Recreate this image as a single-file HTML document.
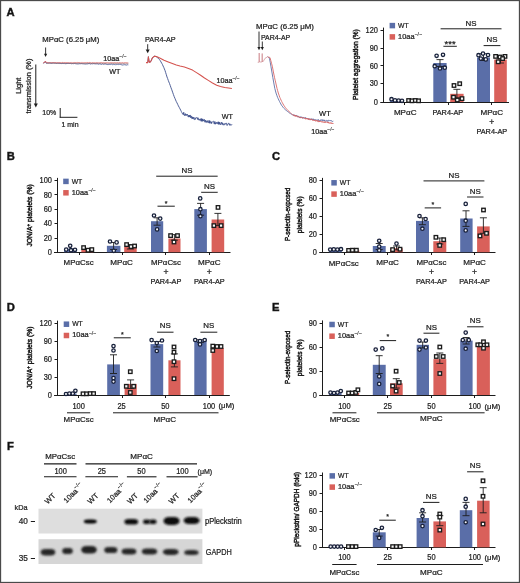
<!DOCTYPE html>
<html><head><meta charset="utf-8"><style>
html,body{margin:0;padding:0;background:#fff;}
svg{display:block;font-family:"Liberation Sans", sans-serif;}
text{stroke:#1e1e1e;stroke-width:0.24px;}
</style></head><body>
<svg width="520" height="583" viewBox="0 0 520 583">
<defs><filter id="soft" x="0" y="0" width="100%" height="100%"><feGaussianBlur stdDeviation="0.32"/></filter></defs>
<rect x="0" y="0" width="520" height="583" fill="#fff"/>
<g filter="url(#soft)">
<text x="6.50" y="15.67" font-size="11.2" text-anchor="start" font-weight="bold" fill="#111" style="stroke-width:0.45px">A</text>
<text x="6.70" y="160.27" font-size="11.2" text-anchor="start" font-weight="bold" fill="#111" style="stroke-width:0.45px">B</text>
<text x="271.90" y="160.27" font-size="11.2" text-anchor="start" font-weight="bold" fill="#111" style="stroke-width:0.45px">C</text>
<text x="6.70" y="310.77" font-size="11.2" text-anchor="start" font-weight="bold" fill="#111" style="stroke-width:0.45px">D</text>
<text x="272.10" y="310.77" font-size="11.2" text-anchor="start" font-weight="bold" fill="#111" style="stroke-width:0.45px">E</text>
<text x="6.90" y="449.67" font-size="11.2" text-anchor="start" font-weight="bold" fill="#111" style="stroke-width:0.45px">F</text>
<text x="42.30" y="42.02" font-size="7.8" text-anchor="start" fill="#1e1e1e" textLength="57.00" lengthAdjust="spacingAndGlyphs">MPαC (6.25 μM)</text>
<line x1="45.60" y1="47.50" x2="45.60" y2="54.30" stroke="#1e1e1e" stroke-width="0.9"/>
<path d="M44.00,53.80 L47.20,53.80 L45.60,57.00 Z" fill="#1e1e1e"/>
<polyline points="43.00,63.27 43.53,63.20 44.07,62.60 44.60,62.55 45.30,61.40 46.00,63.04 46.50,63.02 47.00,62.81 47.50,63.01 48.00,63.02 48.50,63.02 49.00,62.78 49.50,62.96 50.00,62.95 50.50,63.16 51.00,63.34 51.50,63.33 52.00,63.10 52.50,63.05 53.00,62.96 53.50,62.84 54.00,62.85 54.50,63.12 55.00,63.05 55.50,63.10 56.00,63.42 56.50,63.22 57.00,63.25 57.50,63.07 58.00,62.96 58.50,63.15 59.00,63.05 59.50,63.29 60.00,63.60 60.50,63.41 61.00,63.13 61.50,63.56 62.00,63.51 62.50,63.48 63.00,63.59 63.50,63.52 64.00,63.54 64.50,63.29 65.00,63.67 65.50,63.67 66.00,63.20 66.50,63.56 67.00,63.55 67.50,63.40 68.00,63.45 68.50,63.44 69.00,63.70 69.50,63.46 70.00,63.67 70.50,63.39 71.00,63.71 71.50,63.73 72.00,63.48 72.50,63.55 73.00,63.77 73.50,63.66 74.00,63.53 74.50,63.37 75.00,63.44 75.50,63.68 76.00,63.37 76.50,63.82 77.00,63.44 77.50,63.84 78.00,63.49 78.50,63.88 79.00,63.74 79.50,63.63 80.00,63.64 80.50,63.73 81.00,63.70 81.50,63.55 82.00,63.49 82.50,63.68 83.00,63.94 83.50,63.77 84.00,63.45 84.50,63.90 85.00,63.85 85.50,63.97 86.00,63.55 86.50,63.89 87.00,63.49 87.50,63.85 88.00,63.63 88.50,63.61 89.00,64.01 89.50,63.56 90.00,63.81 90.50,64.03 91.01,63.68 91.51,63.67 92.02,64.09 92.52,63.83 93.02,64.02 93.53,63.62 94.03,63.83 94.54,63.73 95.04,64.05 95.54,63.71 96.05,64.25 96.55,63.70 97.06,64.14 97.56,63.73 98.06,63.88 98.57,64.23 99.07,63.85 99.58,63.89 100.08,64.20 100.58,64.04 101.09,63.84 101.59,64.43 102.09,63.94 102.60,63.88 103.10,64.08 103.61,64.26 104.11,64.35 104.61,63.99 105.12,64.14 105.62,63.97 106.13,64.23 106.63,64.44 107.13,64.44 107.64,64.55 108.14,64.47 108.65,64.55 109.15,64.47 109.65,64.35 110.16,64.21 110.66,64.49 111.17,64.30 111.67,64.18 112.17,64.41 112.68,64.68 113.18,64.24 113.69,64.53 114.19,64.43 114.69,64.52 115.20,64.31 115.70,64.81 116.21,64.41 116.71,64.63 117.21,64.53 117.72,64.31 118.22,64.65 118.73,64.41 119.23,64.37 119.73,64.37 120.24,64.47 120.74,64.44 121.24,64.78 121.75,64.72 122.25,65.02 122.76,65.00 123.26,65.05 123.76,64.61 124.27,64.75 124.77,64.65 125.28,64.87 125.78,64.90 126.28,65.02 126.79,64.98 127.29,64.73 127.80,64.84 128.30,64.90" fill="none" stroke="#4a5f9a" stroke-width="0.9" stroke-linejoin="round"/>
<polyline points="43.00,62.67 43.53,62.76 44.07,62.60 44.60,62.65 45.30,61.06 46.00,62.38 46.50,62.36 47.00,62.77 47.51,62.49 48.01,62.47 48.51,62.86 49.01,62.60 49.51,62.78 50.01,62.60 50.52,62.69 51.02,62.44 51.52,62.69 52.02,62.81 52.52,62.64 53.03,62.75 53.53,62.71 54.03,62.41 54.53,62.76 55.03,62.68 55.53,62.54 56.04,62.40 56.54,62.82 57.04,62.63 57.54,62.75 58.04,62.83 58.55,62.75 59.05,62.86 59.55,62.60 60.05,62.80 60.55,62.63 61.05,62.87 61.56,62.85 62.06,62.46 62.56,62.48 63.06,62.52 63.56,62.90 64.07,62.63 64.57,62.73 65.07,62.57 65.57,62.67 66.07,62.62 66.58,62.60 67.08,62.72 67.58,62.72 68.08,62.88 68.58,62.77 69.08,62.90 69.59,62.86 70.09,62.93 70.59,62.78 71.09,62.52 71.59,62.87 72.10,62.93 72.60,62.90 73.10,62.73 73.60,62.81 74.10,62.56 74.60,62.87 75.11,62.74 75.61,62.60 76.11,62.49 76.61,62.89 77.11,62.96 77.62,62.51 78.12,62.87 78.62,62.67 79.12,62.55 79.62,62.62 80.12,62.86 80.63,62.91 81.13,62.50 81.63,62.79 82.13,62.50 82.63,62.84 83.14,62.65 83.64,62.93 84.14,62.98 84.64,62.74 85.14,62.99 85.64,62.65 86.15,62.53 86.65,62.80 87.15,62.52 87.65,62.60 88.15,62.71 88.66,62.81 89.16,62.59 89.66,62.53 90.16,62.94 90.66,62.67 91.16,62.99 91.67,62.96 92.17,62.71 92.67,62.75 93.17,62.78 93.67,62.85 94.18,62.82 94.68,62.81 95.18,62.84 95.68,63.00 96.18,62.79 96.68,62.75 97.19,62.90 97.69,62.66 98.19,62.69 98.69,63.03 99.19,62.80 99.70,62.82 100.20,62.55 100.70,62.76 101.20,62.84 101.70,62.56 102.20,62.86 102.71,62.87 103.21,62.59 103.71,62.87 104.21,62.80 104.71,62.90 105.22,62.74 105.72,62.92 106.22,62.94 106.72,62.58 107.22,62.60 107.73,62.91 108.23,63.06 108.73,62.70 109.23,62.81 109.73,62.88 110.23,62.74 110.74,62.77 111.24,62.74 111.74,62.77 112.24,62.89 112.74,62.74 113.25,62.78 113.75,62.98 114.25,62.61 114.75,62.89 115.25,62.97 115.75,62.76 116.26,62.72 116.76,63.01 117.26,62.73 117.76,62.71 118.26,62.83 118.77,62.96 119.27,62.67 119.77,62.78 120.27,62.79 120.77,63.04 121.27,62.84 121.78,63.05 122.28,62.71 122.78,62.80 123.28,62.96 123.78,63.08 124.29,62.86 124.79,62.75 125.29,62.70 125.79,62.91 126.29,62.74 126.79,63.05 127.30,63.07 127.80,62.74 128.30,62.90" fill="none" stroke="#d9605c" stroke-width="0.9" stroke-linejoin="round"/>
<polyline points="46.00,63.18 46.50,63.40 47.00,63.40 47.51,63.48 48.01,63.15 48.51,63.18 49.01,63.14 49.51,63.18 50.01,63.44 50.52,63.14 51.02,63.34 51.52,63.18 52.02,63.23 52.52,63.30 53.03,63.50 53.53,63.39 54.03,63.10 54.53,63.23 55.03,63.17 55.53,63.53 56.04,63.50 56.54,63.50 57.04,63.52 57.54,63.48 58.04,63.58 58.55,63.51 59.05,63.24 59.55,63.54 60.05,63.36 60.55,63.50 61.05,63.41 61.56,63.34 62.06,63.31 62.56,63.35 63.06,63.29 63.56,63.19 64.07,63.55 64.57,63.54 65.07,63.64 65.57,63.49 66.07,63.42 66.58,63.52 67.08,63.22 67.58,63.49 68.08,63.38 68.58,63.25 69.08,63.26 69.59,63.43 70.09,63.29 70.59,63.40 71.09,63.47 71.59,63.37 72.10,63.24 72.60,63.42 73.10,63.30 73.60,63.30 74.10,63.28 74.60,63.37 75.11,63.23 75.61,63.52 76.11,63.67 76.61,63.39 77.11,63.56 77.62,63.67 78.12,63.23 78.62,63.28 79.12,63.61 79.62,63.63 80.12,63.54 80.63,63.30 81.13,63.43 81.63,63.66 82.13,63.67 82.63,63.63 83.14,63.33 83.64,63.66 84.14,63.42 84.64,63.60 85.14,63.31 85.64,63.73 86.15,63.55 86.65,63.61 87.15,63.36 87.65,63.56 88.15,63.55 88.66,63.55 89.16,63.44 89.66,63.63 90.16,63.44 90.66,63.41 91.16,63.35 91.67,63.61 92.17,63.33 92.67,63.39 93.17,63.31 93.67,63.60 94.18,63.56 94.68,63.56 95.18,63.31 95.68,63.51 96.18,63.47 96.68,63.34 97.19,63.30 97.69,63.80 98.19,63.36 98.69,63.46 99.19,63.44 99.70,63.61 100.20,63.35 100.70,63.55 101.20,63.50 101.70,63.74 102.20,63.33 102.71,63.49 103.21,63.58 103.71,63.82 104.21,63.59 104.71,63.57 105.22,63.67 105.72,63.49 106.22,63.36 106.72,63.60 107.22,63.80 107.73,63.72 108.23,63.48 108.73,63.70 109.23,63.78 109.73,63.49 110.23,63.66 110.74,63.54 111.24,63.49 111.74,63.51 112.24,63.47 112.74,63.55 113.25,63.40 113.75,63.58 114.25,63.43 114.75,63.76 115.25,63.69 115.75,63.39 116.26,63.78 116.76,63.49 117.26,63.64 117.76,63.68 118.26,63.57 118.77,63.55 119.27,63.62 119.77,63.48 120.27,63.84 120.77,63.47 121.27,63.83 121.78,63.53 122.28,63.57 122.78,63.62 123.28,63.44 123.78,63.49 124.29,63.61 124.79,63.65 125.29,63.87 125.79,63.93 126.29,63.46 126.79,63.71 127.30,63.51 127.80,63.85 128.30,63.70" fill="none" stroke="#6a4a55" stroke-width="0.6" stroke-linejoin="round" opacity="0.7"/>
<text x="103.30" y="61.23" font-size="7.2" text-anchor="start" fill="#1e1e1e">10aa<tspan font-size="0.7em" dy="-0.55em" stroke-width="0.1">−/−</tspan></text>
<text x="109.20" y="73.96" font-size="7.6" text-anchor="start" fill="#1e1e1e" textLength="11.20" lengthAdjust="spacingAndGlyphs">WT</text>
<text x="19.00" y="87.93" font-size="7.2" text-anchor="middle" fill="#1e1e1e" transform="rotate(-90 19.00 85.70)" textLength="16.20" lengthAdjust="spacingAndGlyphs">Light</text>
<text x="28.80" y="88.33" font-size="7.2" text-anchor="middle" fill="#1e1e1e" transform="rotate(-90 28.80 86.10)" textLength="55.00" lengthAdjust="spacingAndGlyphs">transmission (%)</text>
<line x1="35.80" y1="64.50" x2="35.80" y2="104.00" stroke="#1e1e1e" stroke-width="1.0"/>
<path d="M33.80,103.50 L37.80,103.50 L35.80,107.50 Z" fill="#1e1e1e"/>
<text x="42.30" y="114.99" font-size="7.4" text-anchor="start" fill="#1e1e1e" textLength="14.00" lengthAdjust="spacingAndGlyphs">10%</text>
<line x1="60.20" y1="108.00" x2="60.20" y2="117.60" stroke="#1e1e1e" stroke-width="1.0"/>
<line x1="59.70" y1="117.30" x2="77.40" y2="117.30" stroke="#1e1e1e" stroke-width="1.0"/>
<text x="61.50" y="127.23" font-size="7.2" text-anchor="start" fill="#1e1e1e" textLength="17.00" lengthAdjust="spacingAndGlyphs">1 min</text>
<text x="145.00" y="41.52" font-size="7.8" text-anchor="start" fill="#1e1e1e" textLength="30.60" lengthAdjust="spacingAndGlyphs">PAR4-AP</text>
<line x1="147.70" y1="44.20" x2="147.70" y2="49.90" stroke="#1e1e1e" stroke-width="0.9"/>
<path d="M145.70,49.40 L149.70,49.40 L147.70,53.20 Z" fill="#1e1e1e"/>
<polyline points="146.00,62.54 146.60,62.50 147.20,62.58 147.80,62.52 148.40,56.70 149.00,60.98 149.80,62.50 151.00,61.07 151.75,59.36 152.50,57.53 153.20,57.14 153.90,56.61 154.60,56.12 155.23,56.31 155.87,56.53 156.50,56.90 157.17,57.41 157.83,57.94 158.50,58.47 159.35,59.43 160.20,60.55 160.97,61.93 161.73,63.26 162.50,64.59 163.12,66.07 163.75,67.35 164.38,68.95 165.00,70.44 165.67,72.60 166.33,74.72 167.00,76.99 167.62,78.53 168.25,80.35 168.88,81.96 169.50,83.51 170.27,85.55 171.03,87.80 171.80,89.82 172.60,92.16 173.40,94.42 174.20,96.60 174.90,98.25 175.60,99.96 176.30,101.58 177.00,102.92 177.70,104.35 178.40,105.88 179.20,107.29 180.00,108.89 180.70,110.18 181.40,111.66 181.80,112.48 182.20,113.11 182.60,114.01 183.00,113.90 183.36,114.65 183.71,112.29 184.07,113.79 184.43,115.40 184.79,114.77 185.14,115.73 185.50,113.68 185.83,114.84 186.17,114.33 186.50,115.33 186.83,115.55 187.17,114.05 187.50,114.78 187.83,115.09 188.17,117.07 188.50,116.77 188.83,115.14 189.17,117.11 189.50,115.32 189.83,116.83 190.17,115.53 190.50,115.29 190.83,117.93 191.17,116.14 191.50,116.27 191.83,118.62 192.17,118.42 192.50,116.86 192.83,118.93 193.17,117.82 193.50,118.35 193.83,117.10 194.17,119.36 194.50,118.75 194.84,119.64 195.18,119.52 195.52,117.88 195.86,118.15 196.19,117.68 196.53,117.71 196.87,117.56 197.21,118.34 197.55,119.30 197.89,117.65 198.23,119.69 198.57,118.80 198.91,118.80 199.24,120.37 199.58,119.48 199.92,119.09 200.26,119.66 200.60,120.39 200.93,118.60 201.27,121.34 201.60,118.67 201.93,120.86 202.27,121.22 202.60,118.90 202.93,121.22 203.27,120.08 203.60,120.78 203.93,119.21 204.27,119.40 204.60,119.87 204.93,122.20 205.27,120.09 205.60,121.79 205.93,122.38 206.27,122.50 206.60,120.85 206.93,120.96 207.27,121.54 207.60,122.35 207.93,120.50 208.27,122.44 208.60,122.66 208.94,122.89 209.28,120.56 209.61,123.24 209.95,120.81 210.29,121.59 210.62,122.42 210.96,123.36 211.30,121.74 211.64,123.48 211.97,122.43 212.31,121.81 212.65,121.87 212.99,121.51 213.32,121.28 213.66,121.53 214.00,123.15 214.34,124.09 214.67,121.72 215.01,121.44 215.35,124.21 215.69,122.95 216.02,122.63 216.36,122.19 216.70,123.27 217.03,123.98 217.36,122.94 217.69,122.88 218.02,121.85 218.35,124.38 218.68,121.85 219.01,123.22 219.34,124.26 219.67,122.24 220.00,124.02 220.33,124.69 220.67,123.80 221.00,124.29 221.33,122.35 221.66,123.33 221.99,122.54 222.32,124.59 222.65,123.03 222.98,123.53 223.31,125.14 223.64,124.75 223.97,125.15 224.30,123.67 224.63,123.79 224.96,124.52 225.29,123.82 225.62,123.30 225.95,123.65 226.28,122.93 226.61,123.63 226.94,125.43 227.27,125.37 227.60,124.43 227.93,124.08 228.27,123.64 228.60,122.95 228.93,123.50 229.26,125.01 229.59,125.28 229.92,123.84 230.25,125.10 230.58,125.09 230.91,124.89 231.24,124.82 231.57,125.13 231.90,124.40" fill="none" stroke="#3d4f8c" stroke-width="0.9" stroke-linejoin="round"/>
<polyline points="146.00,62.60 147.80,62.60 148.40,56.80 149.00,61.00 149.80,62.40 151.00,61.00 152.50,57.60 154.60,56.20 156.50,56.50 160.20,58.30 164.00,60.30 168.30,62.00 173.00,63.80 176.30,65.00 180.00,66.00 184.40,67.00 188.50,68.40 192.50,70.10 196.50,72.60 200.60,75.30 204.50,78.00 208.70,80.60 212.50,83.00 216.70,85.20 220.50,86.60 224.80,87.50 228.50,88.00 231.90,88.40" fill="none" stroke="#d4524e" stroke-width="1.05" stroke-linejoin="round"/>
<text x="216.40" y="82.53" font-size="7.2" text-anchor="start" fill="#1e1e1e">10aa<tspan font-size="0.7em" dy="-0.55em" stroke-width="0.1">−/−</tspan></text>
<text x="221.80" y="119.36" font-size="7.6" text-anchor="start" fill="#1e1e1e" textLength="11.20" lengthAdjust="spacingAndGlyphs">WT</text>
<text x="256.10" y="28.62" font-size="7.8" text-anchor="start" fill="#1e1e1e" textLength="57.80" lengthAdjust="spacingAndGlyphs">MPαC (6.25 μM)</text>
<text x="260.90" y="40.19" font-size="7.4" text-anchor="start" fill="#1e1e1e" textLength="29.30" lengthAdjust="spacingAndGlyphs">PAR4-AP</text>
<line x1="259.00" y1="31.50" x2="259.00" y2="47.50" stroke="#1e1e1e" stroke-width="0.9"/>
<path d="M257.40,47.00 L260.60,47.00 L259.00,50.20 Z" fill="#1e1e1e"/>
<line x1="262.30" y1="41.50" x2="262.30" y2="47.50" stroke="#1e1e1e" stroke-width="0.9"/>
<path d="M260.70,47.00 L263.90,47.00 L262.30,50.20 Z" fill="#1e1e1e"/>
<polyline points="267.60,56.74 268.23,57.34 268.87,57.90 269.50,58.47 270.20,62.24 270.90,66.12 271.90,72.00 272.80,77.33 273.80,82.98 274.80,88.43 276.00,92.97 276.80,95.24 277.60,97.43 278.23,98.76 278.87,100.14 279.50,101.52 280.17,102.70 280.83,103.97 281.50,105.24 282.27,106.17 283.03,107.24 283.80,108.22 284.48,108.87 285.15,109.43 285.82,110.03 286.50,110.74 287.10,111.20 287.70,111.61 288.30,112.03 288.90,112.50 289.50,113.02 290.12,113.34 290.73,113.79 291.35,114.11 291.97,114.43 292.58,114.85 293.20,114.92 293.56,114.75 293.92,115.65 294.27,114.83 294.63,115.68 294.99,115.51 295.35,115.12 295.71,115.95 296.06,115.30 296.42,116.04 296.78,115.56 297.14,115.70 297.49,116.34 297.85,117.09 298.21,116.07 298.57,116.34 298.93,117.09 299.28,117.71 299.64,117.22 300.00,117.03 300.36,118.03 300.72,116.61 301.08,117.98 301.43,117.14 301.79,116.98 302.15,117.00 302.51,117.38 302.87,118.26 303.23,117.31 303.59,118.02 303.94,118.18 304.30,117.82 304.66,118.17 305.02,117.47 305.38,117.53 305.74,117.83 306.10,118.66 306.46,118.33 306.81,118.21 307.17,118.72 307.53,118.57 307.89,118.40 308.25,119.26 308.61,119.17 308.97,118.51 309.32,119.11 309.68,119.10 310.04,119.73 310.40,119.57 310.76,118.90 311.11,120.05 311.47,118.71 311.82,119.23 312.18,119.82 312.53,118.89 312.89,119.47 313.24,118.79 313.60,119.84 313.96,120.03 314.31,119.76 314.67,120.29 315.02,119.43 315.38,120.08 315.73,119.96 316.09,119.98 316.44,119.82 316.80,120.48 317.16,120.69 317.51,119.97 317.87,120.32 318.22,119.39 318.58,120.46 318.93,120.41 319.29,121.01 319.64,120.77 320.00,119.96 320.35,120.14 320.70,120.61 321.05,119.60 321.40,120.32 321.75,119.87 322.10,119.81 322.45,119.74 322.80,120.90 323.15,119.90 323.50,120.11 323.85,120.36 324.20,121.15 324.55,119.90 324.90,120.51 325.25,120.69 325.60,121.25 325.95,121.17 326.30,121.26 326.65,120.35 327.00,120.59 327.35,120.52 327.70,121.38 328.05,121.52 328.40,120.25 328.75,120.31 329.10,120.42 329.45,120.44 329.80,120.87 330.15,121.05 330.50,120.55 330.85,120.16 331.20,120.84 331.55,120.79 331.90,121.12 332.25,121.76 332.60,121.36 332.95,121.10 333.30,121.10" fill="none" stroke="#5565a0" stroke-width="0.85" stroke-linejoin="round"/>
<polyline points="267.60,56.67 268.40,57.06 269.20,57.26 270.00,57.62 270.77,60.38 271.53,63.24 272.30,66.16 273.40,71.97 274.50,77.32 275.15,80.15 275.80,82.99 277.00,88.40 277.65,90.66 278.30,93.04 279.05,95.15 279.80,97.37 280.43,98.71 281.07,100.11 281.70,101.49 282.37,102.78 283.03,103.95 283.70,105.15 284.40,106.17 285.10,107.26 285.80,108.15 286.60,109.05 287.40,109.85 288.20,110.72 288.80,111.26 289.40,111.87 290.00,112.42 290.60,113.02 291.25,113.60 291.90,114.11 292.55,114.61 293.20,115.14 293.56,115.13 293.92,114.89 294.27,116.10 294.63,114.92 294.99,115.78 295.35,116.49 295.71,115.38 296.06,116.21 296.42,116.42 296.78,115.67 297.14,116.29 297.49,116.89 297.85,116.63 298.21,117.16 298.57,116.42 298.93,116.66 299.28,116.58 299.64,117.29 300.00,118.04 300.36,117.61 300.72,117.96 301.08,117.45 301.43,118.07 301.79,117.18 302.15,117.54 302.51,118.19 302.87,118.35 303.23,117.97 303.59,117.54 303.94,117.88 304.30,117.88 304.66,118.06 305.02,118.93 305.38,118.09 305.74,119.19 306.10,119.26 306.46,118.10 306.81,118.66 307.17,118.90 307.53,118.28 307.89,118.96 308.25,119.75 308.61,118.64 308.97,119.44 309.32,118.80 309.68,119.57 310.04,120.12 310.40,119.15 310.76,118.93 311.11,119.12 311.47,119.87 311.82,119.16 312.18,119.33 312.53,120.02 312.89,120.72 313.24,120.04 313.60,120.08 313.96,120.51 314.31,119.76 314.67,120.56 315.02,120.02 315.38,120.75 315.73,121.34 316.09,120.06 316.44,120.88 316.80,121.03 317.16,120.41 317.51,120.66 317.87,121.82 318.22,121.90 318.58,120.65 318.93,121.60 319.29,122.04 319.64,121.03 320.00,121.67 320.35,120.86 320.70,121.40 321.05,121.91 321.40,121.84 321.75,122.16 322.10,121.18 322.45,121.62 322.80,122.45 323.15,122.08 323.50,121.93 323.85,121.90 324.20,122.83 324.55,122.26 324.90,121.48 325.25,122.70 325.60,122.04 325.95,122.25 326.30,121.97 326.65,122.37 327.00,122.24 327.35,121.93 327.70,122.79 328.05,122.05 328.40,123.13 328.75,122.04 329.10,123.22 329.45,123.31 329.80,122.90 330.15,123.26 330.50,122.62 330.85,123.41 331.20,122.99 331.55,122.75 331.90,123.90 332.25,123.10 332.60,123.11 332.95,123.89 333.30,123.40" fill="none" stroke="#d86868" stroke-width="0.9" stroke-linejoin="round"/>
<polyline points="257.70,62.30 258.90,62.30 259.20,53.00 259.50,62.00 261.90,62.00 262.20,53.50 262.50,62.00 263.50,61.00 265.00,58.30 267.30,57.00" fill="none" stroke="#c87880" stroke-width="0.6" stroke-linejoin="round"/>
<text x="319.10" y="115.56" font-size="7.6" text-anchor="start" fill="#1e1e1e" textLength="11.60" lengthAdjust="spacingAndGlyphs">WT</text>
<text x="311.20" y="133.63" font-size="7.2" text-anchor="start" fill="#1e1e1e">10aa<tspan font-size="0.7em" dy="-0.55em" stroke-width="0.1">−/−</tspan></text>
<text x="355.60" y="67.02" font-size="7.8" text-anchor="middle" fill="#1e1e1e" transform="rotate(-90 355.60 64.60)" textLength="70.60" lengthAdjust="spacingAndGlyphs" style="stroke-width:0.5px">Platelet aggregation (%)</text>
<line x1="383.50" y1="27.60" x2="383.50" y2="102.50" stroke="#1e1e1e" stroke-width="1"/>
<line x1="380.50" y1="30.50" x2="383.50" y2="30.50" stroke="#1e1e1e" stroke-width="1"/>
<text x="378.00" y="32.87" font-size="8.6" text-anchor="end" fill="#1e1e1e" textLength="12.45" lengthAdjust="spacingAndGlyphs">120</text>
<line x1="380.50" y1="48.50" x2="383.50" y2="48.50" stroke="#1e1e1e" stroke-width="1"/>
<text x="378.00" y="50.67" font-size="8.6" text-anchor="end" fill="#1e1e1e" textLength="8.30" lengthAdjust="spacingAndGlyphs">90</text>
<line x1="380.50" y1="65.50" x2="383.50" y2="65.50" stroke="#1e1e1e" stroke-width="1"/>
<text x="378.00" y="68.57" font-size="8.6" text-anchor="end" fill="#1e1e1e" textLength="8.30" lengthAdjust="spacingAndGlyphs">60</text>
<line x1="380.50" y1="83.50" x2="383.50" y2="83.50" stroke="#1e1e1e" stroke-width="1"/>
<text x="378.00" y="86.47" font-size="8.6" text-anchor="end" fill="#1e1e1e" textLength="8.30" lengthAdjust="spacingAndGlyphs">30</text>
<line x1="380.50" y1="102.50" x2="383.50" y2="102.50" stroke="#1e1e1e" stroke-width="1"/>
<text x="378.00" y="104.67" font-size="8.6" text-anchor="end" fill="#1e1e1e" textLength="4.15" lengthAdjust="spacingAndGlyphs">0</text>
<line x1="380.50" y1="102.50" x2="509.00" y2="102.50" stroke="#1e1e1e" stroke-width="1"/>
<line x1="404.50" y1="102.50" x2="404.50" y2="105.00" stroke="#1e1e1e" stroke-width="1"/>
<line x1="448.50" y1="102.50" x2="448.50" y2="105.00" stroke="#1e1e1e" stroke-width="1"/>
<line x1="491.50" y1="102.50" x2="491.50" y2="105.00" stroke="#1e1e1e" stroke-width="1"/>
<rect x="389.60" y="22.85" width="5.50" height="5.50" fill="#5a6ea8"/>
<rect x="389.60" y="34.15" width="5.50" height="5.50" fill="#d9605a"/>
<text x="398.10" y="27.89" font-size="7.4" text-anchor="start" fill="#1e1e1e" textLength="10.60" lengthAdjust="spacingAndGlyphs">WT</text>
<text x="398.10" y="38.79" font-size="7.4" text-anchor="start" fill="#1e1e1e">10aa<tspan font-size="0.7em" dy="-0.55em" stroke-width="0.1">−/−</tspan></text>
<rect x="389.80" y="100.60" width="12.80" height="1.40" fill="#5a6ea8"/>
<rect x="407.00" y="101.00" width="12.80" height="1.00" fill="#d9605a"/>
<circle cx="391.50" cy="99.20" r="1.7" fill="#f4f4f8" stroke="#18203a" stroke-width="1.3"/>
<circle cx="395.00" cy="100.40" r="1.7" fill="#f4f4f8" stroke="#18203a" stroke-width="1.3"/>
<circle cx="398.60" cy="100.60" r="1.7" fill="#f4f4f8" stroke="#18203a" stroke-width="1.3"/>
<circle cx="402.00" cy="100.80" r="1.7" fill="#f4f4f8" stroke="#18203a" stroke-width="1.3"/>
<rect x="406.85" y="98.75" width="3.5" height="3.5" fill="#f6f6f6" stroke="#1a1a1a" stroke-width="1.3"/>
<rect x="410.25" y="99.05" width="3.5" height="3.5" fill="#f6f6f6" stroke="#1a1a1a" stroke-width="1.3"/>
<rect x="413.55" y="98.75" width="3.5" height="3.5" fill="#f6f6f6" stroke="#1a1a1a" stroke-width="1.3"/>
<rect x="416.85" y="99.05" width="3.5" height="3.5" fill="#f6f6f6" stroke="#1a1a1a" stroke-width="1.3"/>
<rect x="433.30" y="63.00" width="13.30" height="39.00" fill="#5a6ea8"/>
<rect x="450.20" y="93.80" width="13.40" height="8.20" fill="#d9605a"/>
<line x1="440.00" y1="59.60" x2="440.00" y2="66.50" stroke="#1e1e1e" stroke-width="0.9"/>
<line x1="436.50" y1="59.60" x2="443.50" y2="59.60" stroke="#1e1e1e" stroke-width="0.9"/>
<line x1="436.50" y1="66.50" x2="443.50" y2="66.50" stroke="#1e1e1e" stroke-width="0.9"/>
<circle cx="436.60" cy="55.80" r="1.7" fill="#f4f4f8" stroke="#18203a" stroke-width="1.3"/>
<circle cx="443.00" cy="54.80" r="1.7" fill="#f4f4f8" stroke="#18203a" stroke-width="1.3"/>
<circle cx="434.70" cy="66.20" r="1.7" fill="#f4f4f8" stroke="#18203a" stroke-width="1.3"/>
<circle cx="440.00" cy="68.50" r="1.7" fill="#f4f4f8" stroke="#18203a" stroke-width="1.3"/>
<circle cx="444.80" cy="67.70" r="1.7" fill="#f4f4f8" stroke="#18203a" stroke-width="1.3"/>
<line x1="456.90" y1="89.30" x2="456.90" y2="98.00" stroke="#1e1e1e" stroke-width="0.9"/>
<line x1="453.40" y1="89.30" x2="460.40" y2="89.30" stroke="#1e1e1e" stroke-width="0.9"/>
<line x1="453.40" y1="98.00" x2="460.40" y2="98.00" stroke="#1e1e1e" stroke-width="0.9"/>
<rect x="452.25" y="83.75" width="3.5" height="3.5" fill="#f6f6f6" stroke="#1a1a1a" stroke-width="1.3"/>
<rect x="457.95" y="81.95" width="3.5" height="3.5" fill="#f6f6f6" stroke="#1a1a1a" stroke-width="1.3"/>
<rect x="451.75" y="95.45" width="3.5" height="3.5" fill="#f6f6f6" stroke="#1a1a1a" stroke-width="1.3"/>
<rect x="455.55" y="98.25" width="3.5" height="3.5" fill="#f6f6f6" stroke="#1a1a1a" stroke-width="1.3"/>
<rect x="460.25" y="96.85" width="3.5" height="3.5" fill="#f6f6f6" stroke="#1a1a1a" stroke-width="1.3"/>
<rect x="477.00" y="57.40" width="13.00" height="44.60" fill="#5a6ea8"/>
<rect x="494.20" y="59.60" width="12.60" height="42.40" fill="#d9605a"/>
<line x1="483.50" y1="53.80" x2="483.50" y2="60.50" stroke="#1e1e1e" stroke-width="0.9"/>
<line x1="480.00" y1="53.80" x2="487.00" y2="53.80" stroke="#1e1e1e" stroke-width="0.9"/>
<line x1="480.00" y1="60.50" x2="487.00" y2="60.50" stroke="#1e1e1e" stroke-width="0.9"/>
<circle cx="478.50" cy="55.20" r="1.7" fill="#f4f4f8" stroke="#18203a" stroke-width="1.3"/>
<circle cx="483.00" cy="53.60" r="1.7" fill="#f4f4f8" stroke="#18203a" stroke-width="1.3"/>
<circle cx="488.00" cy="55.00" r="1.7" fill="#f4f4f8" stroke="#18203a" stroke-width="1.3"/>
<circle cx="480.80" cy="58.60" r="1.7" fill="#f4f4f8" stroke="#18203a" stroke-width="1.3"/>
<circle cx="485.80" cy="59.40" r="1.7" fill="#f4f4f8" stroke="#18203a" stroke-width="1.3"/>
<line x1="500.50" y1="56.20" x2="500.50" y2="63.00" stroke="#1e1e1e" stroke-width="0.9"/>
<line x1="497.00" y1="56.20" x2="504.00" y2="56.20" stroke="#1e1e1e" stroke-width="0.9"/>
<line x1="497.00" y1="63.00" x2="504.00" y2="63.00" stroke="#1e1e1e" stroke-width="0.9"/>
<rect x="493.85" y="54.65" width="3.5" height="3.5" fill="#f6f6f6" stroke="#1a1a1a" stroke-width="1.3"/>
<rect x="498.25" y="55.25" width="3.5" height="3.5" fill="#f6f6f6" stroke="#1a1a1a" stroke-width="1.3"/>
<rect x="503.25" y="54.65" width="3.5" height="3.5" fill="#f6f6f6" stroke="#1a1a1a" stroke-width="1.3"/>
<rect x="496.45" y="60.05" width="3.5" height="3.5" fill="#f6f6f6" stroke="#1a1a1a" stroke-width="1.3"/>
<rect x="500.85" y="56.85" width="3.5" height="3.5" fill="#f6f6f6" stroke="#1a1a1a" stroke-width="1.3"/>
<line x1="440.60" y1="28.80" x2="501.50" y2="28.80" stroke="#1e1e1e" stroke-width="1"/>
<text x="471.05" y="25.88" font-size="8.0" text-anchor="middle" fill="#1e1e1e" textLength="11.00" lengthAdjust="spacingAndGlyphs">NS</text>
<line x1="443.40" y1="46.30" x2="456.80" y2="46.30" stroke="#1e1e1e" stroke-width="1"/>
<text x="450.10" y="46.51" font-size="9.4" text-anchor="middle" fill="#1e1e1e">***</text>
<line x1="483.60" y1="45.60" x2="500.40" y2="45.60" stroke="#1e1e1e" stroke-width="1"/>
<text x="492.00" y="41.88" font-size="8.0" text-anchor="middle" fill="#1e1e1e" textLength="11.00" lengthAdjust="spacingAndGlyphs">NS</text>
<text x="405.20" y="114.88" font-size="8.0" text-anchor="middle" fill="#1e1e1e" textLength="22.60" lengthAdjust="spacingAndGlyphs">MPαC</text>
<text x="447.80" y="114.88" font-size="8.0" text-anchor="middle" fill="#1e1e1e" textLength="30.80" lengthAdjust="spacingAndGlyphs">PAR4-AP</text>
<text x="491.80" y="114.88" font-size="8.0" text-anchor="middle" fill="#1e1e1e" textLength="22.60" lengthAdjust="spacingAndGlyphs">MPαC</text>
<text x="491.80" y="124.67" font-size="8.6" text-anchor="middle" fill="#1e1e1e">+</text>
<text x="491.80" y="134.08" font-size="8.0" text-anchor="middle" fill="#1e1e1e" textLength="30.80" lengthAdjust="spacingAndGlyphs">PAR4-AP</text>
<text x="29.90" y="217.82" font-size="7.8" text-anchor="middle" fill="#1e1e1e" style="stroke-width:0.5px" transform="rotate(-90 29.90 215.40)" textLength="62.4" lengthAdjust="spacingAndGlyphs">JON/A<tspan font-size="0.65em" dy="-0.55em">+</tspan><tspan dy="0.35em"> platelets (%)</tspan></text>
<line x1="57.50" y1="177.90" x2="57.50" y2="252.70" stroke="#1e1e1e" stroke-width="1"/>
<line x1="54.50" y1="180.50" x2="57.50" y2="180.50" stroke="#1e1e1e" stroke-width="1"/>
<text x="52.00" y="183.17" font-size="8.6" text-anchor="end" fill="#1e1e1e" textLength="12.45" lengthAdjust="spacingAndGlyphs">100</text>
<line x1="54.50" y1="194.50" x2="57.50" y2="194.50" stroke="#1e1e1e" stroke-width="1"/>
<text x="52.00" y="197.57" font-size="8.6" text-anchor="end" fill="#1e1e1e" textLength="8.30" lengthAdjust="spacingAndGlyphs">80</text>
<line x1="54.50" y1="209.50" x2="57.50" y2="209.50" stroke="#1e1e1e" stroke-width="1"/>
<text x="52.00" y="211.97" font-size="8.6" text-anchor="end" fill="#1e1e1e" textLength="8.30" lengthAdjust="spacingAndGlyphs">60</text>
<line x1="54.50" y1="223.50" x2="57.50" y2="223.50" stroke="#1e1e1e" stroke-width="1"/>
<text x="52.00" y="226.27" font-size="8.6" text-anchor="end" fill="#1e1e1e" textLength="8.30" lengthAdjust="spacingAndGlyphs">40</text>
<line x1="54.50" y1="238.50" x2="57.50" y2="238.50" stroke="#1e1e1e" stroke-width="1"/>
<text x="52.00" y="240.67" font-size="8.6" text-anchor="end" fill="#1e1e1e" textLength="8.30" lengthAdjust="spacingAndGlyphs">20</text>
<line x1="54.50" y1="252.50" x2="57.50" y2="252.50" stroke="#1e1e1e" stroke-width="1"/>
<text x="52.00" y="254.87" font-size="8.6" text-anchor="end" fill="#1e1e1e" textLength="4.15" lengthAdjust="spacingAndGlyphs">0</text>
<line x1="54.00" y1="252.50" x2="230.50" y2="252.50" stroke="#1e1e1e" stroke-width="1"/>
<line x1="79.50" y1="252.50" x2="79.50" y2="255.00" stroke="#1e1e1e" stroke-width="1"/>
<line x1="122.50" y1="252.50" x2="122.50" y2="255.00" stroke="#1e1e1e" stroke-width="1"/>
<line x1="165.50" y1="252.50" x2="165.50" y2="255.00" stroke="#1e1e1e" stroke-width="1"/>
<line x1="209.50" y1="252.50" x2="209.50" y2="255.00" stroke="#1e1e1e" stroke-width="1"/>
<rect x="63.20" y="178.65" width="5.50" height="5.50" fill="#5a6ea8"/>
<rect x="63.20" y="190.05" width="5.50" height="5.50" fill="#d9605a"/>
<text x="71.70" y="183.69" font-size="7.4" text-anchor="start" fill="#1e1e1e" textLength="10.60" lengthAdjust="spacingAndGlyphs">WT</text>
<text x="71.70" y="194.69" font-size="7.4" text-anchor="start" fill="#1e1e1e">10aa<tspan font-size="0.7em" dy="-0.55em" stroke-width="0.1">−/−</tspan></text>
<rect x="64.00" y="248.80" width="12.60" height="3.40" fill="#5a6ea8"/>
<rect x="81.30" y="249.80" width="12.10" height="2.40" fill="#d9605a"/>
<circle cx="70.20" cy="245.80" r="1.7" fill="#f4f4f8" stroke="#18203a" stroke-width="1.3"/>
<circle cx="66.20" cy="249.60" r="1.7" fill="#f4f4f8" stroke="#18203a" stroke-width="1.3"/>
<circle cx="71.00" cy="250.20" r="1.7" fill="#f4f4f8" stroke="#18203a" stroke-width="1.3"/>
<circle cx="75.00" cy="249.80" r="1.7" fill="#f4f4f8" stroke="#18203a" stroke-width="1.3"/>
<rect x="81.85" y="245.85" width="3.5" height="3.5" fill="#f6f6f6" stroke="#1a1a1a" stroke-width="1.3"/>
<rect x="86.25" y="248.45" width="3.5" height="3.5" fill="#f6f6f6" stroke="#1a1a1a" stroke-width="1.3"/>
<rect x="90.05" y="247.85" width="3.5" height="3.5" fill="#f6f6f6" stroke="#1a1a1a" stroke-width="1.3"/>
<rect x="106.90" y="245.80" width="13.50" height="6.40" fill="#5a6ea8"/>
<rect x="124.20" y="247.00" width="12.50" height="5.20" fill="#d9605a"/>
<line x1="113.60" y1="242.50" x2="113.60" y2="249.50" stroke="#1e1e1e" stroke-width="0.9"/>
<line x1="110.10" y1="242.50" x2="117.10" y2="242.50" stroke="#1e1e1e" stroke-width="0.9"/>
<line x1="110.10" y1="249.50" x2="117.10" y2="249.50" stroke="#1e1e1e" stroke-width="0.9"/>
<circle cx="110.00" cy="241.50" r="1.7" fill="#f4f4f8" stroke="#18203a" stroke-width="1.3"/>
<circle cx="116.60" cy="242.40" r="1.7" fill="#f4f4f8" stroke="#18203a" stroke-width="1.3"/>
<circle cx="113.80" cy="250.80" r="1.7" fill="#f4f4f8" stroke="#18203a" stroke-width="1.3"/>
<line x1="130.40" y1="244.80" x2="130.40" y2="249.00" stroke="#1e1e1e" stroke-width="0.9"/>
<line x1="126.90" y1="244.80" x2="133.90" y2="244.80" stroke="#1e1e1e" stroke-width="0.9"/>
<line x1="126.90" y1="249.00" x2="133.90" y2="249.00" stroke="#1e1e1e" stroke-width="0.9"/>
<rect x="124.85" y="242.85" width="3.5" height="3.5" fill="#f6f6f6" stroke="#1a1a1a" stroke-width="1.3"/>
<rect x="129.25" y="244.85" width="3.5" height="3.5" fill="#f6f6f6" stroke="#1a1a1a" stroke-width="1.3"/>
<rect x="132.85" y="244.25" width="3.5" height="3.5" fill="#f6f6f6" stroke="#1a1a1a" stroke-width="1.3"/>
<rect x="151.00" y="221.20" width="12.20" height="31.00" fill="#5a6ea8"/>
<rect x="168.40" y="238.50" width="12.10" height="13.70" fill="#d9605a"/>
<line x1="157.10" y1="217.80" x2="157.10" y2="225.20" stroke="#1e1e1e" stroke-width="0.9"/>
<line x1="153.60" y1="217.80" x2="160.60" y2="217.80" stroke="#1e1e1e" stroke-width="0.9"/>
<line x1="153.60" y1="225.20" x2="160.60" y2="225.20" stroke="#1e1e1e" stroke-width="0.9"/>
<circle cx="154.00" cy="215.50" r="1.7" fill="#f4f4f8" stroke="#18203a" stroke-width="1.3"/>
<circle cx="160.20" cy="218.60" r="1.7" fill="#f4f4f8" stroke="#18203a" stroke-width="1.3"/>
<circle cx="157.10" cy="229.40" r="1.7" fill="#f4f4f8" stroke="#18203a" stroke-width="1.3"/>
<line x1="174.40" y1="234.60" x2="174.40" y2="240.20" stroke="#1e1e1e" stroke-width="0.9"/>
<line x1="170.90" y1="234.60" x2="177.90" y2="234.60" stroke="#1e1e1e" stroke-width="0.9"/>
<line x1="170.90" y1="240.20" x2="177.90" y2="240.20" stroke="#1e1e1e" stroke-width="0.9"/>
<rect x="168.85" y="233.85" width="3.5" height="3.5" fill="#f6f6f6" stroke="#1a1a1a" stroke-width="1.3"/>
<rect x="175.75" y="233.85" width="3.5" height="3.5" fill="#f6f6f6" stroke="#1a1a1a" stroke-width="1.3"/>
<rect x="172.25" y="240.25" width="3.5" height="3.5" fill="#f6f6f6" stroke="#1a1a1a" stroke-width="1.3"/>
<rect x="194.30" y="209.10" width="12.60" height="43.10" fill="#5a6ea8"/>
<rect x="211.60" y="219.50" width="12.60" height="32.70" fill="#d9605a"/>
<line x1="200.60" y1="203.40" x2="200.60" y2="215.20" stroke="#1e1e1e" stroke-width="0.9"/>
<line x1="197.10" y1="203.40" x2="204.10" y2="203.40" stroke="#1e1e1e" stroke-width="0.9"/>
<line x1="197.10" y1="215.20" x2="204.10" y2="215.20" stroke="#1e1e1e" stroke-width="0.9"/>
<circle cx="200.20" cy="198.40" r="1.7" fill="#f4f4f8" stroke="#18203a" stroke-width="1.3"/>
<circle cx="200.40" cy="209.20" r="1.7" fill="#f4f4f8" stroke="#18203a" stroke-width="1.3"/>
<circle cx="200.40" cy="216.20" r="1.7" fill="#f4f4f8" stroke="#18203a" stroke-width="1.3"/>
<line x1="217.90" y1="213.40" x2="217.90" y2="225.60" stroke="#1e1e1e" stroke-width="0.9"/>
<line x1="214.40" y1="213.40" x2="221.40" y2="213.40" stroke="#1e1e1e" stroke-width="0.9"/>
<line x1="214.40" y1="225.60" x2="221.40" y2="225.60" stroke="#1e1e1e" stroke-width="0.9"/>
<rect x="216.25" y="205.65" width="3.5" height="3.5" fill="#f6f6f6" stroke="#1a1a1a" stroke-width="1.3"/>
<rect x="212.15" y="223.85" width="3.5" height="3.5" fill="#f6f6f6" stroke="#1a1a1a" stroke-width="1.3"/>
<rect x="219.35" y="223.85" width="3.5" height="3.5" fill="#f6f6f6" stroke="#1a1a1a" stroke-width="1.3"/>
<line x1="156.20" y1="176.20" x2="217.70" y2="176.20" stroke="#1e1e1e" stroke-width="1"/>
<text x="186.95" y="172.88" font-size="8.0" text-anchor="middle" fill="#1e1e1e" textLength="11.00" lengthAdjust="spacingAndGlyphs">NS</text>
<line x1="157.50" y1="206.20" x2="174.80" y2="206.20" stroke="#1e1e1e" stroke-width="1"/>
<text x="166.15" y="205.87" font-size="7.0" text-anchor="middle" fill="#1e1e1e">*</text>
<line x1="201.20" y1="192.30" x2="217.70" y2="192.30" stroke="#1e1e1e" stroke-width="1"/>
<text x="209.45" y="189.08" font-size="8.0" text-anchor="middle" fill="#1e1e1e" textLength="11.00" lengthAdjust="spacingAndGlyphs">NS</text>
<text x="78.60" y="265.28" font-size="8.0" text-anchor="middle" fill="#1e1e1e" textLength="30.00" lengthAdjust="spacingAndGlyphs">MPαCsc</text>
<text x="121.60" y="265.28" font-size="8.0" text-anchor="middle" fill="#1e1e1e" textLength="22.60" lengthAdjust="spacingAndGlyphs">MPαC</text>
<text x="166.00" y="265.28" font-size="8.0" text-anchor="middle" fill="#1e1e1e" textLength="30.00" lengthAdjust="spacingAndGlyphs">MPαCsc</text>
<text x="166.00" y="275.47" font-size="8.6" text-anchor="middle" fill="#1e1e1e">+</text>
<text x="166.00" y="284.28" font-size="8.0" text-anchor="middle" fill="#1e1e1e" textLength="30.80" lengthAdjust="spacingAndGlyphs">PAR4-AP</text>
<text x="209.30" y="265.28" font-size="8.0" text-anchor="middle" fill="#1e1e1e" textLength="22.60" lengthAdjust="spacingAndGlyphs">MPαC</text>
<text x="209.30" y="275.47" font-size="8.6" text-anchor="middle" fill="#1e1e1e">+</text>
<text x="209.30" y="284.28" font-size="8.0" text-anchor="middle" fill="#1e1e1e" textLength="30.80" lengthAdjust="spacingAndGlyphs">PAR4-AP</text>
<text x="287.60" y="216.82" font-size="7.8" text-anchor="middle" fill="#1e1e1e" transform="rotate(-90 287.60 214.40)" textLength="53.40" lengthAdjust="spacingAndGlyphs" style="stroke-width:0.5px">P-selectin-exposed</text>
<text x="299.40" y="217.22" font-size="7.8" text-anchor="middle" fill="#1e1e1e" transform="rotate(-90 299.40 214.80)" textLength="36.80" lengthAdjust="spacingAndGlyphs" style="stroke-width:0.5px">platelets (%)</text>
<line x1="322.50" y1="177.90" x2="322.50" y2="252.70" stroke="#1e1e1e" stroke-width="1"/>
<line x1="319.50" y1="180.50" x2="322.50" y2="180.50" stroke="#1e1e1e" stroke-width="1"/>
<text x="317.00" y="183.17" font-size="8.6" text-anchor="end" fill="#1e1e1e" textLength="8.30" lengthAdjust="spacingAndGlyphs">80</text>
<line x1="319.50" y1="198.50" x2="322.50" y2="198.50" stroke="#1e1e1e" stroke-width="1"/>
<text x="317.00" y="201.17" font-size="8.6" text-anchor="end" fill="#1e1e1e" textLength="8.30" lengthAdjust="spacingAndGlyphs">60</text>
<line x1="319.50" y1="216.50" x2="322.50" y2="216.50" stroke="#1e1e1e" stroke-width="1"/>
<text x="317.00" y="219.07" font-size="8.6" text-anchor="end" fill="#1e1e1e" textLength="8.30" lengthAdjust="spacingAndGlyphs">40</text>
<line x1="319.50" y1="234.50" x2="322.50" y2="234.50" stroke="#1e1e1e" stroke-width="1"/>
<text x="317.00" y="237.07" font-size="8.6" text-anchor="end" fill="#1e1e1e" textLength="8.30" lengthAdjust="spacingAndGlyphs">20</text>
<line x1="319.50" y1="252.50" x2="322.50" y2="252.50" stroke="#1e1e1e" stroke-width="1"/>
<text x="317.00" y="254.87" font-size="8.6" text-anchor="end" fill="#1e1e1e" textLength="4.15" lengthAdjust="spacingAndGlyphs">0</text>
<line x1="319.30" y1="252.50" x2="495.50" y2="252.50" stroke="#1e1e1e" stroke-width="1"/>
<line x1="344.50" y1="252.50" x2="344.50" y2="255.00" stroke="#1e1e1e" stroke-width="1"/>
<line x1="387.50" y1="252.50" x2="387.50" y2="255.00" stroke="#1e1e1e" stroke-width="1"/>
<line x1="431.50" y1="252.50" x2="431.50" y2="255.00" stroke="#1e1e1e" stroke-width="1"/>
<line x1="474.50" y1="252.50" x2="474.50" y2="255.00" stroke="#1e1e1e" stroke-width="1"/>
<rect x="331.30" y="180.05" width="5.50" height="5.50" fill="#5a6ea8"/>
<rect x="331.30" y="191.35" width="5.50" height="5.50" fill="#d9605a"/>
<text x="339.80" y="185.09" font-size="7.4" text-anchor="start" fill="#1e1e1e" textLength="10.60" lengthAdjust="spacingAndGlyphs">WT</text>
<text x="339.80" y="195.99" font-size="7.4" text-anchor="start" fill="#1e1e1e">10aa<tspan font-size="0.7em" dy="-0.55em" stroke-width="0.1">−/−</tspan></text>
<rect x="329.00" y="250.00" width="12.80" height="2.20" fill="#5a6ea8"/>
<rect x="346.60" y="250.60" width="12.80" height="1.60" fill="#d9605a"/>
<circle cx="330.20" cy="249.60" r="1.7" fill="#f4f4f8" stroke="#18203a" stroke-width="1.3"/>
<circle cx="333.80" cy="249.40" r="1.7" fill="#f4f4f8" stroke="#18203a" stroke-width="1.3"/>
<circle cx="337.40" cy="249.60" r="1.7" fill="#f4f4f8" stroke="#18203a" stroke-width="1.3"/>
<circle cx="341.00" cy="249.20" r="1.7" fill="#f4f4f8" stroke="#18203a" stroke-width="1.3"/>
<rect x="346.85" y="248.65" width="3.5" height="3.5" fill="#f6f6f6" stroke="#1a1a1a" stroke-width="1.3"/>
<rect x="350.65" y="248.45" width="3.5" height="3.5" fill="#f6f6f6" stroke="#1a1a1a" stroke-width="1.3"/>
<rect x="354.65" y="248.45" width="3.5" height="3.5" fill="#f6f6f6" stroke="#1a1a1a" stroke-width="1.3"/>
<rect x="372.80" y="246.00" width="12.90" height="6.20" fill="#5a6ea8"/>
<rect x="390.10" y="248.20" width="12.60" height="4.00" fill="#d9605a"/>
<line x1="379.20" y1="243.50" x2="379.20" y2="249.50" stroke="#1e1e1e" stroke-width="0.9"/>
<line x1="375.70" y1="243.50" x2="382.70" y2="243.50" stroke="#1e1e1e" stroke-width="0.9"/>
<line x1="375.70" y1="249.50" x2="382.70" y2="249.50" stroke="#1e1e1e" stroke-width="0.9"/>
<circle cx="379.20" cy="240.80" r="1.7" fill="#f4f4f8" stroke="#18203a" stroke-width="1.3"/>
<circle cx="379.20" cy="246.60" r="1.7" fill="#f4f4f8" stroke="#18203a" stroke-width="1.3"/>
<circle cx="379.20" cy="250.40" r="1.7" fill="#f4f4f8" stroke="#18203a" stroke-width="1.3"/>
<line x1="396.50" y1="246.00" x2="396.50" y2="249.80" stroke="#1e1e1e" stroke-width="0.9"/>
<line x1="393.00" y1="246.00" x2="400.00" y2="246.00" stroke="#1e1e1e" stroke-width="0.9"/>
<line x1="393.00" y1="249.80" x2="400.00" y2="249.80" stroke="#1e1e1e" stroke-width="0.9"/>
<circle cx="396.50" cy="243.60" r="1.7" fill="#f4f4f8" stroke="#18203a" stroke-width="1.3"/>
<rect x="390.85" y="247.85" width="3.5" height="3.5" fill="#f6f6f6" stroke="#1a1a1a" stroke-width="1.3"/>
<rect x="398.25" y="247.45" width="3.5" height="3.5" fill="#f6f6f6" stroke="#1a1a1a" stroke-width="1.3"/>
<rect x="416.00" y="220.90" width="13.00" height="31.30" fill="#5a6ea8"/>
<rect x="433.30" y="241.20" width="13.00" height="11.00" fill="#d9605a"/>
<line x1="422.40" y1="217.80" x2="422.40" y2="224.70" stroke="#1e1e1e" stroke-width="0.9"/>
<line x1="418.90" y1="217.80" x2="425.90" y2="217.80" stroke="#1e1e1e" stroke-width="0.9"/>
<line x1="418.90" y1="224.70" x2="425.90" y2="224.70" stroke="#1e1e1e" stroke-width="0.9"/>
<circle cx="419.50" cy="216.00" r="1.7" fill="#f4f4f8" stroke="#18203a" stroke-width="1.3"/>
<circle cx="425.60" cy="219.00" r="1.7" fill="#f4f4f8" stroke="#18203a" stroke-width="1.3"/>
<circle cx="422.40" cy="228.70" r="1.7" fill="#f4f4f8" stroke="#18203a" stroke-width="1.3"/>
<line x1="439.80" y1="238.00" x2="439.80" y2="244.00" stroke="#1e1e1e" stroke-width="0.9"/>
<line x1="436.30" y1="238.00" x2="443.30" y2="238.00" stroke="#1e1e1e" stroke-width="0.9"/>
<line x1="436.30" y1="244.00" x2="443.30" y2="244.00" stroke="#1e1e1e" stroke-width="0.9"/>
<rect x="434.15" y="235.55" width="3.5" height="3.5" fill="#f6f6f6" stroke="#1a1a1a" stroke-width="1.3"/>
<rect x="441.95" y="237.95" width="3.5" height="3.5" fill="#f6f6f6" stroke="#1a1a1a" stroke-width="1.3"/>
<rect x="437.95" y="243.65" width="3.5" height="3.5" fill="#f6f6f6" stroke="#1a1a1a" stroke-width="1.3"/>
<rect x="460.20" y="218.50" width="12.40" height="33.70" fill="#5a6ea8"/>
<rect x="477.10" y="226.40" width="12.60" height="25.80" fill="#d9605a"/>
<line x1="466.00" y1="210.80" x2="466.00" y2="226.40" stroke="#1e1e1e" stroke-width="0.9"/>
<line x1="462.50" y1="210.80" x2="469.50" y2="210.80" stroke="#1e1e1e" stroke-width="0.9"/>
<line x1="462.50" y1="226.40" x2="469.50" y2="226.40" stroke="#1e1e1e" stroke-width="0.9"/>
<circle cx="465.70" cy="203.90" r="1.7" fill="#f4f4f8" stroke="#18203a" stroke-width="1.3"/>
<circle cx="465.70" cy="220.70" r="1.7" fill="#f4f4f8" stroke="#18203a" stroke-width="1.3"/>
<circle cx="465.70" cy="230.40" r="1.7" fill="#f4f4f8" stroke="#18203a" stroke-width="1.3"/>
<line x1="483.40" y1="217.80" x2="483.40" y2="233.30" stroke="#1e1e1e" stroke-width="0.9"/>
<line x1="479.90" y1="217.80" x2="486.90" y2="217.80" stroke="#1e1e1e" stroke-width="0.9"/>
<line x1="479.90" y1="233.30" x2="486.90" y2="233.30" stroke="#1e1e1e" stroke-width="0.9"/>
<rect x="481.75" y="208.25" width="3.5" height="3.5" fill="#f6f6f6" stroke="#1a1a1a" stroke-width="1.3"/>
<rect x="478.25" y="234.15" width="3.5" height="3.5" fill="#f6f6f6" stroke="#1a1a1a" stroke-width="1.3"/>
<rect x="484.75" y="231.55" width="3.5" height="3.5" fill="#f6f6f6" stroke="#1a1a1a" stroke-width="1.3"/>
<line x1="423.50" y1="180.90" x2="484.40" y2="180.90" stroke="#1e1e1e" stroke-width="1"/>
<text x="453.95" y="178.08" font-size="8.0" text-anchor="middle" fill="#1e1e1e" textLength="11.00" lengthAdjust="spacingAndGlyphs">NS</text>
<line x1="424.70" y1="207.90" x2="441.10" y2="207.90" stroke="#1e1e1e" stroke-width="1"/>
<text x="432.90" y="206.77" font-size="7.0" text-anchor="middle" fill="#1e1e1e">*</text>
<line x1="467.10" y1="197.00" x2="483.50" y2="197.00" stroke="#1e1e1e" stroke-width="1"/>
<text x="475.30" y="193.68" font-size="8.0" text-anchor="middle" fill="#1e1e1e" textLength="11.00" lengthAdjust="spacingAndGlyphs">NS</text>
<text x="343.80" y="265.68" font-size="8.0" text-anchor="middle" fill="#1e1e1e" textLength="30.00" lengthAdjust="spacingAndGlyphs">MPαCsc</text>
<text x="387.60" y="265.08" font-size="8.0" text-anchor="middle" fill="#1e1e1e" textLength="22.60" lengthAdjust="spacingAndGlyphs">MPαC</text>
<text x="431.40" y="265.08" font-size="8.0" text-anchor="middle" fill="#1e1e1e" textLength="30.00" lengthAdjust="spacingAndGlyphs">MPαCsc</text>
<text x="431.40" y="275.27" font-size="8.6" text-anchor="middle" fill="#1e1e1e">+</text>
<text x="431.40" y="284.28" font-size="8.0" text-anchor="middle" fill="#1e1e1e" textLength="30.80" lengthAdjust="spacingAndGlyphs">PAR4-AP</text>
<text x="474.60" y="265.08" font-size="8.0" text-anchor="middle" fill="#1e1e1e" textLength="22.60" lengthAdjust="spacingAndGlyphs">MPαC</text>
<text x="474.60" y="275.27" font-size="8.6" text-anchor="middle" fill="#1e1e1e">+</text>
<text x="474.60" y="284.28" font-size="8.0" text-anchor="middle" fill="#1e1e1e" textLength="30.80" lengthAdjust="spacingAndGlyphs">PAR4-AP</text>
<text x="29.90" y="360.02" font-size="7.8" text-anchor="middle" fill="#1e1e1e" style="stroke-width:0.5px" transform="rotate(-90 29.90 357.60)" textLength="62.4" lengthAdjust="spacingAndGlyphs">JON/A<tspan font-size="0.65em" dy="-0.55em">+</tspan><tspan dy="0.35em"> platelets (%)</tspan></text>
<line x1="57.50" y1="320.65" x2="57.50" y2="395.50" stroke="#1e1e1e" stroke-width="1"/>
<line x1="54.50" y1="323.50" x2="57.50" y2="323.50" stroke="#1e1e1e" stroke-width="1"/>
<text x="52.00" y="325.92" font-size="8.6" text-anchor="end" fill="#1e1e1e" textLength="12.45" lengthAdjust="spacingAndGlyphs">120</text>
<line x1="54.50" y1="341.50" x2="57.50" y2="341.50" stroke="#1e1e1e" stroke-width="1"/>
<text x="52.00" y="343.87" font-size="8.6" text-anchor="end" fill="#1e1e1e" textLength="8.30" lengthAdjust="spacingAndGlyphs">90</text>
<line x1="54.50" y1="359.50" x2="57.50" y2="359.50" stroke="#1e1e1e" stroke-width="1"/>
<text x="52.00" y="361.87" font-size="8.6" text-anchor="end" fill="#1e1e1e" textLength="8.30" lengthAdjust="spacingAndGlyphs">60</text>
<line x1="54.50" y1="377.50" x2="57.50" y2="377.50" stroke="#1e1e1e" stroke-width="1"/>
<text x="52.00" y="379.77" font-size="8.6" text-anchor="end" fill="#1e1e1e" textLength="8.30" lengthAdjust="spacingAndGlyphs">30</text>
<line x1="54.50" y1="395.50" x2="57.50" y2="395.50" stroke="#1e1e1e" stroke-width="1"/>
<text x="52.00" y="397.67" font-size="8.6" text-anchor="end" fill="#1e1e1e" textLength="4.15" lengthAdjust="spacingAndGlyphs">0</text>
<line x1="54.10" y1="395.50" x2="229.80" y2="395.50" stroke="#1e1e1e" stroke-width="1"/>
<line x1="78.50" y1="395.50" x2="78.50" y2="398.00" stroke="#1e1e1e" stroke-width="1"/>
<line x1="122.50" y1="395.50" x2="122.50" y2="398.00" stroke="#1e1e1e" stroke-width="1"/>
<line x1="165.50" y1="395.50" x2="165.50" y2="398.00" stroke="#1e1e1e" stroke-width="1"/>
<line x1="209.50" y1="395.50" x2="209.50" y2="398.00" stroke="#1e1e1e" stroke-width="1"/>
<rect x="63.70" y="321.45" width="5.50" height="5.50" fill="#5a6ea8"/>
<rect x="63.70" y="332.75" width="5.50" height="5.50" fill="#d9605a"/>
<text x="72.20" y="326.49" font-size="7.4" text-anchor="start" fill="#1e1e1e" textLength="10.60" lengthAdjust="spacingAndGlyphs">WT</text>
<text x="72.20" y="337.39" font-size="7.4" text-anchor="start" fill="#1e1e1e">10aa<tspan font-size="0.7em" dy="-0.55em" stroke-width="0.1">−/−</tspan></text>
<rect x="64.00" y="393.60" width="12.60" height="1.40" fill="#5a6ea8"/>
<rect x="81.00" y="393.80" width="12.60" height="1.20" fill="#d9605a"/>
<circle cx="66.00" cy="394.00" r="1.7" fill="#f4f4f8" stroke="#18203a" stroke-width="1.3"/>
<circle cx="69.40" cy="393.60" r="1.7" fill="#f4f4f8" stroke="#18203a" stroke-width="1.3"/>
<circle cx="72.80" cy="393.60" r="1.7" fill="#f4f4f8" stroke="#18203a" stroke-width="1.3"/>
<circle cx="75.40" cy="390.80" r="1.7" fill="#f4f4f8" stroke="#18203a" stroke-width="1.3"/>
<rect x="81.25" y="392.05" width="3.5" height="3.5" fill="#f6f6f6" stroke="#1a1a1a" stroke-width="1.3"/>
<rect x="84.85" y="392.05" width="3.5" height="3.5" fill="#f6f6f6" stroke="#1a1a1a" stroke-width="1.3"/>
<rect x="88.45" y="391.85" width="3.5" height="3.5" fill="#f6f6f6" stroke="#1a1a1a" stroke-width="1.3"/>
<rect x="91.85" y="391.85" width="3.5" height="3.5" fill="#f6f6f6" stroke="#1a1a1a" stroke-width="1.3"/>
<rect x="107.20" y="364.40" width="12.70" height="30.60" fill="#5a6ea8"/>
<rect x="124.60" y="383.90" width="12.10" height="11.10" fill="#d9605a"/>
<line x1="113.50" y1="354.80" x2="113.50" y2="373.50" stroke="#1e1e1e" stroke-width="0.9"/>
<line x1="110.00" y1="354.80" x2="117.00" y2="354.80" stroke="#1e1e1e" stroke-width="0.9"/>
<line x1="110.00" y1="373.50" x2="117.00" y2="373.50" stroke="#1e1e1e" stroke-width="0.9"/>
<circle cx="113.50" cy="346.10" r="1.7" fill="#f4f4f8" stroke="#18203a" stroke-width="1.3"/>
<circle cx="113.50" cy="350.50" r="1.7" fill="#f4f4f8" stroke="#18203a" stroke-width="1.3"/>
<circle cx="113.50" cy="378.10" r="1.7" fill="#f4f4f8" stroke="#18203a" stroke-width="1.3"/>
<circle cx="113.50" cy="381.60" r="1.7" fill="#f4f4f8" stroke="#18203a" stroke-width="1.3"/>
<line x1="130.60" y1="379.90" x2="130.60" y2="388.50" stroke="#1e1e1e" stroke-width="0.9"/>
<line x1="127.10" y1="379.90" x2="134.10" y2="379.90" stroke="#1e1e1e" stroke-width="0.9"/>
<line x1="127.10" y1="388.50" x2="134.10" y2="388.50" stroke="#1e1e1e" stroke-width="0.9"/>
<rect x="128.55" y="369.95" width="3.5" height="3.5" fill="#f6f6f6" stroke="#1a1a1a" stroke-width="1.3"/>
<rect x="124.55" y="384.55" width="3.5" height="3.5" fill="#f6f6f6" stroke="#1a1a1a" stroke-width="1.3"/>
<rect x="131.95" y="384.55" width="3.5" height="3.5" fill="#f6f6f6" stroke="#1a1a1a" stroke-width="1.3"/>
<rect x="128.55" y="390.75" width="3.5" height="3.5" fill="#f6f6f6" stroke="#1a1a1a" stroke-width="1.3"/>
<rect x="150.50" y="344.10" width="12.70" height="50.90" fill="#5a6ea8"/>
<rect x="168.40" y="360.30" width="12.10" height="34.70" fill="#d9605a"/>
<line x1="156.90" y1="341.50" x2="156.90" y2="347.00" stroke="#1e1e1e" stroke-width="0.9"/>
<line x1="153.40" y1="341.50" x2="160.40" y2="341.50" stroke="#1e1e1e" stroke-width="0.9"/>
<line x1="153.40" y1="347.00" x2="160.40" y2="347.00" stroke="#1e1e1e" stroke-width="0.9"/>
<circle cx="151.60" cy="340.10" r="1.7" fill="#f4f4f8" stroke="#18203a" stroke-width="1.3"/>
<circle cx="156.80" cy="343.00" r="1.7" fill="#f4f4f8" stroke="#18203a" stroke-width="1.3"/>
<circle cx="162.00" cy="340.50" r="1.7" fill="#f4f4f8" stroke="#18203a" stroke-width="1.3"/>
<circle cx="156.80" cy="351.00" r="1.7" fill="#f4f4f8" stroke="#18203a" stroke-width="1.3"/>
<line x1="174.40" y1="353.90" x2="174.40" y2="366.90" stroke="#1e1e1e" stroke-width="0.9"/>
<line x1="170.90" y1="353.90" x2="177.90" y2="353.90" stroke="#1e1e1e" stroke-width="0.9"/>
<line x1="170.90" y1="366.90" x2="177.90" y2="366.90" stroke="#1e1e1e" stroke-width="0.9"/>
<rect x="172.25" y="345.25" width="3.5" height="3.5" fill="#f6f6f6" stroke="#1a1a1a" stroke-width="1.3"/>
<rect x="172.25" y="350.45" width="3.5" height="3.5" fill="#f6f6f6" stroke="#1a1a1a" stroke-width="1.3"/>
<rect x="172.25" y="359.95" width="3.5" height="3.5" fill="#f6f6f6" stroke="#1a1a1a" stroke-width="1.3"/>
<rect x="172.25" y="376.95" width="3.5" height="3.5" fill="#f6f6f6" stroke="#1a1a1a" stroke-width="1.3"/>
<rect x="194.30" y="341.00" width="12.30" height="54.00" fill="#5a6ea8"/>
<rect x="211.60" y="347.90" width="12.20" height="47.10" fill="#d9605a"/>
<line x1="200.40" y1="339.80" x2="200.40" y2="342.60" stroke="#1e1e1e" stroke-width="0.9"/>
<line x1="196.90" y1="339.80" x2="203.90" y2="339.80" stroke="#1e1e1e" stroke-width="0.9"/>
<line x1="196.90" y1="342.60" x2="203.90" y2="342.60" stroke="#1e1e1e" stroke-width="0.9"/>
<circle cx="195.20" cy="340.00" r="1.7" fill="#f4f4f8" stroke="#18203a" stroke-width="1.3"/>
<circle cx="200.00" cy="341.00" r="1.7" fill="#f4f4f8" stroke="#18203a" stroke-width="1.3"/>
<circle cx="204.70" cy="340.00" r="1.7" fill="#f4f4f8" stroke="#18203a" stroke-width="1.3"/>
<circle cx="200.00" cy="344.40" r="1.7" fill="#f4f4f8" stroke="#18203a" stroke-width="1.3"/>
<rect x="211.05" y="344.35" width="3.5" height="3.5" fill="#f6f6f6" stroke="#1a1a1a" stroke-width="1.3"/>
<rect x="215.25" y="344.75" width="3.5" height="3.5" fill="#f6f6f6" stroke="#1a1a1a" stroke-width="1.3"/>
<rect x="219.25" y="344.75" width="3.5" height="3.5" fill="#f6f6f6" stroke="#1a1a1a" stroke-width="1.3"/>
<rect x="211.05" y="348.75" width="3.5" height="3.5" fill="#f6f6f6" stroke="#1a1a1a" stroke-width="1.3"/>
<line x1="113.80" y1="337.80" x2="130.80" y2="337.80" stroke="#1e1e1e" stroke-width="1"/>
<text x="122.30" y="336.57" font-size="7.0" text-anchor="middle" fill="#1e1e1e">*</text>
<line x1="157.10" y1="332.20" x2="173.50" y2="332.20" stroke="#1e1e1e" stroke-width="1"/>
<text x="165.30" y="328.28" font-size="8.0" text-anchor="middle" fill="#1e1e1e" textLength="11.00" lengthAdjust="spacingAndGlyphs">NS</text>
<line x1="200.40" y1="332.20" x2="217.30" y2="332.20" stroke="#1e1e1e" stroke-width="1"/>
<text x="208.85" y="328.28" font-size="8.0" text-anchor="middle" fill="#1e1e1e" textLength="11.00" lengthAdjust="spacingAndGlyphs">NS</text>
<text x="78.60" y="408.57" font-size="8.6" text-anchor="middle" fill="#1e1e1e" textLength="12.45" lengthAdjust="spacingAndGlyphs">100</text>
<text x="121.60" y="408.57" font-size="8.6" text-anchor="middle" fill="#1e1e1e" textLength="8.30" lengthAdjust="spacingAndGlyphs">25</text>
<text x="165.30" y="408.57" font-size="8.6" text-anchor="middle" fill="#1e1e1e" textLength="8.30" lengthAdjust="spacingAndGlyphs">50</text>
<text x="209.00" y="408.57" font-size="8.6" text-anchor="middle" fill="#1e1e1e" textLength="12.45" lengthAdjust="spacingAndGlyphs">100</text>
<text x="218.40" y="408.26" font-size="7.6" text-anchor="start" fill="#1e1e1e" textLength="16.00" lengthAdjust="spacingAndGlyphs">(μM)</text>
<line x1="67.00" y1="412.80" x2="90.20" y2="412.80" stroke="#1e1e1e" stroke-width="1"/>
<line x1="113.00" y1="412.80" x2="218.50" y2="412.80" stroke="#1e1e1e" stroke-width="1"/>
<text x="78.60" y="422.48" font-size="8.0" text-anchor="middle" fill="#1e1e1e" textLength="30.00" lengthAdjust="spacingAndGlyphs">MPαCsc</text>
<text x="164.80" y="422.08" font-size="8.0" text-anchor="middle" fill="#1e1e1e" textLength="22.60" lengthAdjust="spacingAndGlyphs">MPαC</text>
<text x="287.60" y="359.82" font-size="7.8" text-anchor="middle" fill="#1e1e1e" transform="rotate(-90 287.60 357.40)" textLength="53.40" lengthAdjust="spacingAndGlyphs" style="stroke-width:0.5px">P-selectin-exposed</text>
<text x="299.40" y="360.22" font-size="7.8" text-anchor="middle" fill="#1e1e1e" transform="rotate(-90 299.40 357.80)" textLength="36.80" lengthAdjust="spacingAndGlyphs" style="stroke-width:0.5px">platelets (%)</text>
<line x1="322.50" y1="320.40" x2="322.50" y2="395.50" stroke="#1e1e1e" stroke-width="1"/>
<line x1="319.50" y1="323.50" x2="322.50" y2="323.50" stroke="#1e1e1e" stroke-width="1"/>
<text x="317.00" y="325.67" font-size="8.6" text-anchor="end" fill="#1e1e1e" textLength="8.30" lengthAdjust="spacingAndGlyphs">90</text>
<line x1="319.50" y1="347.50" x2="322.50" y2="347.50" stroke="#1e1e1e" stroke-width="1"/>
<text x="317.00" y="349.77" font-size="8.6" text-anchor="end" fill="#1e1e1e" textLength="8.30" lengthAdjust="spacingAndGlyphs">60</text>
<line x1="319.50" y1="371.50" x2="322.50" y2="371.50" stroke="#1e1e1e" stroke-width="1"/>
<text x="317.00" y="373.77" font-size="8.6" text-anchor="end" fill="#1e1e1e" textLength="8.30" lengthAdjust="spacingAndGlyphs">30</text>
<line x1="319.50" y1="395.50" x2="322.50" y2="395.50" stroke="#1e1e1e" stroke-width="1"/>
<text x="317.00" y="397.67" font-size="8.6" text-anchor="end" fill="#1e1e1e" textLength="4.15" lengthAdjust="spacingAndGlyphs">0</text>
<line x1="319.30" y1="395.50" x2="495.50" y2="395.50" stroke="#1e1e1e" stroke-width="1"/>
<line x1="344.50" y1="395.50" x2="344.50" y2="398.00" stroke="#1e1e1e" stroke-width="1"/>
<line x1="387.50" y1="395.50" x2="387.50" y2="398.00" stroke="#1e1e1e" stroke-width="1"/>
<line x1="431.50" y1="395.50" x2="431.50" y2="398.00" stroke="#1e1e1e" stroke-width="1"/>
<line x1="474.50" y1="395.50" x2="474.50" y2="398.00" stroke="#1e1e1e" stroke-width="1"/>
<rect x="329.30" y="321.75" width="5.50" height="5.50" fill="#5a6ea8"/>
<rect x="329.30" y="333.45" width="5.50" height="5.50" fill="#d9605a"/>
<text x="337.80" y="326.79" font-size="7.4" text-anchor="start" fill="#1e1e1e" textLength="10.60" lengthAdjust="spacingAndGlyphs">WT</text>
<text x="337.80" y="338.09" font-size="7.4" text-anchor="start" fill="#1e1e1e">10aa<tspan font-size="0.7em" dy="-0.55em" stroke-width="0.1">−/−</tspan></text>
<rect x="329.00" y="393.20" width="12.60" height="1.80" fill="#5a6ea8"/>
<rect x="346.60" y="393.00" width="12.60" height="2.00" fill="#d9605a"/>
<circle cx="330.50" cy="392.60" r="1.7" fill="#f4f4f8" stroke="#18203a" stroke-width="1.3"/>
<circle cx="334.00" cy="393.00" r="1.7" fill="#f4f4f8" stroke="#18203a" stroke-width="1.3"/>
<circle cx="337.50" cy="392.60" r="1.7" fill="#f4f4f8" stroke="#18203a" stroke-width="1.3"/>
<circle cx="340.80" cy="391.10" r="1.7" fill="#f4f4f8" stroke="#18203a" stroke-width="1.3"/>
<rect x="346.85" y="391.25" width="3.5" height="3.5" fill="#f6f6f6" stroke="#1a1a1a" stroke-width="1.3"/>
<rect x="350.45" y="391.25" width="3.5" height="3.5" fill="#f6f6f6" stroke="#1a1a1a" stroke-width="1.3"/>
<rect x="354.05" y="390.65" width="3.5" height="3.5" fill="#f6f6f6" stroke="#1a1a1a" stroke-width="1.3"/>
<rect x="356.15" y="388.05" width="3.5" height="3.5" fill="#f6f6f6" stroke="#1a1a1a" stroke-width="1.3"/>
<rect x="372.80" y="364.80" width="12.90" height="30.20" fill="#5a6ea8"/>
<rect x="390.00" y="383.30" width="12.70" height="11.70" fill="#d9605a"/>
<line x1="379.20" y1="355.70" x2="379.20" y2="373.50" stroke="#1e1e1e" stroke-width="0.9"/>
<line x1="375.70" y1="355.70" x2="382.70" y2="355.70" stroke="#1e1e1e" stroke-width="0.9"/>
<line x1="375.70" y1="373.50" x2="382.70" y2="373.50" stroke="#1e1e1e" stroke-width="0.9"/>
<circle cx="375.70" cy="349.60" r="1.7" fill="#f4f4f8" stroke="#18203a" stroke-width="1.3"/>
<circle cx="382.30" cy="348.40" r="1.7" fill="#f4f4f8" stroke="#18203a" stroke-width="1.3"/>
<circle cx="379.20" cy="376.40" r="1.7" fill="#f4f4f8" stroke="#18203a" stroke-width="1.3"/>
<circle cx="379.20" cy="383.90" r="1.7" fill="#f4f4f8" stroke="#18203a" stroke-width="1.3"/>
<line x1="396.30" y1="378.70" x2="396.30" y2="388.00" stroke="#1e1e1e" stroke-width="0.9"/>
<line x1="392.80" y1="378.70" x2="399.80" y2="378.70" stroke="#1e1e1e" stroke-width="0.9"/>
<line x1="392.80" y1="388.00" x2="399.80" y2="388.00" stroke="#1e1e1e" stroke-width="0.9"/>
<rect x="394.35" y="369.45" width="3.5" height="3.5" fill="#f6f6f6" stroke="#1a1a1a" stroke-width="1.3"/>
<rect x="390.95" y="384.25" width="3.5" height="3.5" fill="#f6f6f6" stroke="#1a1a1a" stroke-width="1.3"/>
<rect x="397.45" y="380.75" width="3.5" height="3.5" fill="#f6f6f6" stroke="#1a1a1a" stroke-width="1.3"/>
<rect x="394.35" y="389.35" width="3.5" height="3.5" fill="#f6f6f6" stroke="#1a1a1a" stroke-width="1.3"/>
<rect x="416.60" y="344.80" width="12.40" height="50.20" fill="#5a6ea8"/>
<rect x="433.40" y="359.10" width="12.90" height="35.90" fill="#d9605a"/>
<line x1="422.70" y1="342.00" x2="422.70" y2="348.00" stroke="#1e1e1e" stroke-width="0.9"/>
<line x1="419.20" y1="342.00" x2="426.20" y2="342.00" stroke="#1e1e1e" stroke-width="0.9"/>
<line x1="419.20" y1="348.00" x2="426.20" y2="348.00" stroke="#1e1e1e" stroke-width="0.9"/>
<circle cx="419.50" cy="340.60" r="1.7" fill="#f4f4f8" stroke="#18203a" stroke-width="1.3"/>
<circle cx="425.90" cy="340.60" r="1.7" fill="#f4f4f8" stroke="#18203a" stroke-width="1.3"/>
<circle cx="419.50" cy="349.60" r="1.7" fill="#f4f4f8" stroke="#18203a" stroke-width="1.3"/>
<circle cx="425.90" cy="347.50" r="1.7" fill="#f4f4f8" stroke="#18203a" stroke-width="1.3"/>
<line x1="439.80" y1="353.00" x2="439.80" y2="363.40" stroke="#1e1e1e" stroke-width="0.9"/>
<line x1="436.30" y1="353.00" x2="443.30" y2="353.00" stroke="#1e1e1e" stroke-width="0.9"/>
<line x1="436.30" y1="363.40" x2="443.30" y2="363.40" stroke="#1e1e1e" stroke-width="0.9"/>
<rect x="438.05" y="345.25" width="3.5" height="3.5" fill="#f6f6f6" stroke="#1a1a1a" stroke-width="1.3"/>
<rect x="434.55" y="354.75" width="3.5" height="3.5" fill="#f6f6f6" stroke="#1a1a1a" stroke-width="1.3"/>
<rect x="441.45" y="354.75" width="3.5" height="3.5" fill="#f6f6f6" stroke="#1a1a1a" stroke-width="1.3"/>
<rect x="438.05" y="371.75" width="3.5" height="3.5" fill="#f6f6f6" stroke="#1a1a1a" stroke-width="1.3"/>
<rect x="460.20" y="340.60" width="12.40" height="54.40" fill="#5a6ea8"/>
<rect x="476.80" y="345.80" width="13.10" height="49.20" fill="#d9605a"/>
<line x1="466.20" y1="337.50" x2="466.20" y2="344.00" stroke="#1e1e1e" stroke-width="0.9"/>
<line x1="462.70" y1="337.50" x2="469.70" y2="337.50" stroke="#1e1e1e" stroke-width="0.9"/>
<line x1="462.70" y1="344.00" x2="469.70" y2="344.00" stroke="#1e1e1e" stroke-width="0.9"/>
<circle cx="465.70" cy="332.60" r="1.7" fill="#f4f4f8" stroke="#18203a" stroke-width="1.3"/>
<circle cx="462.80" cy="340.10" r="1.7" fill="#f4f4f8" stroke="#18203a" stroke-width="1.3"/>
<circle cx="468.80" cy="340.10" r="1.7" fill="#f4f4f8" stroke="#18203a" stroke-width="1.3"/>
<circle cx="465.70" cy="348.70" r="1.7" fill="#f4f4f8" stroke="#18203a" stroke-width="1.3"/>
<rect x="476.05" y="343.05" width="3.5" height="3.5" fill="#f6f6f6" stroke="#1a1a1a" stroke-width="1.3"/>
<rect x="478.85" y="343.05" width="3.5" height="3.5" fill="#f6f6f6" stroke="#1a1a1a" stroke-width="1.3"/>
<rect x="481.75" y="340.05" width="3.5" height="3.5" fill="#f6f6f6" stroke="#1a1a1a" stroke-width="1.3"/>
<rect x="485.25" y="343.05" width="3.5" height="3.5" fill="#f6f6f6" stroke="#1a1a1a" stroke-width="1.3"/>
<rect x="481.75" y="346.45" width="3.5" height="3.5" fill="#f6f6f6" stroke="#1a1a1a" stroke-width="1.3"/>
<line x1="379.70" y1="340.60" x2="396.10" y2="340.60" stroke="#1e1e1e" stroke-width="1"/>
<text x="387.90" y="339.47" font-size="7.0" text-anchor="middle" fill="#1e1e1e">*</text>
<line x1="423.50" y1="333.20" x2="439.40" y2="333.20" stroke="#1e1e1e" stroke-width="1"/>
<text x="431.45" y="330.28" font-size="8.0" text-anchor="middle" fill="#1e1e1e" textLength="11.00" lengthAdjust="spacingAndGlyphs">NS</text>
<line x1="467.10" y1="326.80" x2="483.50" y2="326.80" stroke="#1e1e1e" stroke-width="1"/>
<text x="475.30" y="323.48" font-size="8.0" text-anchor="middle" fill="#1e1e1e" textLength="11.00" lengthAdjust="spacingAndGlyphs">NS</text>
<text x="344.40" y="408.87" font-size="8.6" text-anchor="middle" fill="#1e1e1e" textLength="12.45" lengthAdjust="spacingAndGlyphs">100</text>
<text x="387.70" y="408.87" font-size="8.6" text-anchor="middle" fill="#1e1e1e" textLength="8.30" lengthAdjust="spacingAndGlyphs">25</text>
<text x="431.40" y="408.87" font-size="8.6" text-anchor="middle" fill="#1e1e1e" textLength="8.30" lengthAdjust="spacingAndGlyphs">50</text>
<text x="474.80" y="408.87" font-size="8.6" text-anchor="middle" fill="#1e1e1e" textLength="12.45" lengthAdjust="spacingAndGlyphs">100</text>
<text x="484.40" y="408.56" font-size="7.6" text-anchor="start" fill="#1e1e1e" textLength="16.00" lengthAdjust="spacingAndGlyphs">(μM)</text>
<line x1="332.50" y1="412.80" x2="356.40" y2="412.80" stroke="#1e1e1e" stroke-width="1"/>
<line x1="377.00" y1="412.80" x2="484.60" y2="412.80" stroke="#1e1e1e" stroke-width="1"/>
<text x="344.80" y="422.48" font-size="8.0" text-anchor="middle" fill="#1e1e1e" textLength="30.00" lengthAdjust="spacingAndGlyphs">MPαCsc</text>
<text x="431.40" y="421.28" font-size="8.0" text-anchor="middle" fill="#1e1e1e" textLength="22.60" lengthAdjust="spacingAndGlyphs">MPαC</text>
<text x="296.80" y="511.82" font-size="7.8" text-anchor="middle" fill="#1e1e1e" transform="rotate(-90 296.80 509.40)" textLength="74.60" lengthAdjust="spacingAndGlyphs" style="stroke-width:0.5px">pPleckstrin/ GAPDH (fold)</text>
<line x1="322.50" y1="472.50" x2="322.50" y2="547.80" stroke="#1e1e1e" stroke-width="1"/>
<line x1="319.50" y1="475.50" x2="322.50" y2="475.50" stroke="#1e1e1e" stroke-width="1"/>
<text x="317.00" y="477.77" font-size="8.6" text-anchor="end" fill="#1e1e1e" textLength="12.45" lengthAdjust="spacingAndGlyphs">120</text>
<line x1="319.50" y1="493.50" x2="322.50" y2="493.50" stroke="#1e1e1e" stroke-width="1"/>
<text x="317.00" y="495.77" font-size="8.6" text-anchor="end" fill="#1e1e1e" textLength="8.30" lengthAdjust="spacingAndGlyphs">90</text>
<line x1="319.50" y1="511.50" x2="322.50" y2="511.50" stroke="#1e1e1e" stroke-width="1"/>
<text x="317.00" y="513.77" font-size="8.6" text-anchor="end" fill="#1e1e1e" textLength="8.30" lengthAdjust="spacingAndGlyphs">60</text>
<line x1="319.50" y1="529.50" x2="322.50" y2="529.50" stroke="#1e1e1e" stroke-width="1"/>
<text x="317.00" y="531.77" font-size="8.6" text-anchor="end" fill="#1e1e1e" textLength="8.30" lengthAdjust="spacingAndGlyphs">30</text>
<line x1="319.50" y1="547.50" x2="322.50" y2="547.50" stroke="#1e1e1e" stroke-width="1"/>
<text x="317.00" y="549.97" font-size="8.6" text-anchor="end" fill="#1e1e1e" textLength="4.15" lengthAdjust="spacingAndGlyphs">0</text>
<line x1="319.30" y1="547.50" x2="495.50" y2="547.50" stroke="#1e1e1e" stroke-width="1"/>
<line x1="344.50" y1="547.50" x2="344.50" y2="550.00" stroke="#1e1e1e" stroke-width="1"/>
<line x1="387.50" y1="547.50" x2="387.50" y2="550.00" stroke="#1e1e1e" stroke-width="1"/>
<line x1="431.50" y1="547.50" x2="431.50" y2="550.00" stroke="#1e1e1e" stroke-width="1"/>
<line x1="474.50" y1="547.50" x2="474.50" y2="550.00" stroke="#1e1e1e" stroke-width="1"/>
<rect x="329.50" y="473.15" width="5.50" height="5.50" fill="#5a6ea8"/>
<rect x="329.50" y="484.35" width="5.50" height="5.50" fill="#d9605a"/>
<text x="338.00" y="478.19" font-size="7.4" text-anchor="start" fill="#1e1e1e" textLength="10.60" lengthAdjust="spacingAndGlyphs">WT</text>
<text x="338.00" y="488.99" font-size="7.4" text-anchor="start" fill="#1e1e1e">10aa<tspan font-size="0.7em" dy="-0.55em" stroke-width="0.1">−/−</tspan></text>
<circle cx="330.70" cy="546.60" r="1.7" fill="#f4f4f8" stroke="#18203a" stroke-width="1.3"/>
<circle cx="334.20" cy="546.60" r="1.7" fill="#f4f4f8" stroke="#18203a" stroke-width="1.3"/>
<circle cx="337.70" cy="546.60" r="1.7" fill="#f4f4f8" stroke="#18203a" stroke-width="1.3"/>
<circle cx="341.10" cy="546.60" r="1.7" fill="#f4f4f8" stroke="#18203a" stroke-width="1.3"/>
<rect x="346.65" y="544.85" width="3.5" height="3.5" fill="#f6f6f6" stroke="#1a1a1a" stroke-width="1.3"/>
<rect x="350.45" y="544.85" width="3.5" height="3.5" fill="#f6f6f6" stroke="#1a1a1a" stroke-width="1.3"/>
<rect x="354.25" y="544.85" width="3.5" height="3.5" fill="#f6f6f6" stroke="#1a1a1a" stroke-width="1.3"/>
<rect x="372.80" y="532.30" width="12.90" height="15.00" fill="#5a6ea8"/>
<line x1="379.20" y1="529.50" x2="379.20" y2="536.10" stroke="#1e1e1e" stroke-width="0.9"/>
<line x1="375.70" y1="529.50" x2="382.70" y2="529.50" stroke="#1e1e1e" stroke-width="0.9"/>
<line x1="375.70" y1="536.10" x2="382.70" y2="536.10" stroke="#1e1e1e" stroke-width="0.9"/>
<circle cx="375.70" cy="530.00" r="1.7" fill="#f4f4f8" stroke="#18203a" stroke-width="1.3"/>
<circle cx="381.90" cy="527.80" r="1.7" fill="#f4f4f8" stroke="#18203a" stroke-width="1.3"/>
<circle cx="379.20" cy="537.90" r="1.7" fill="#f4f4f8" stroke="#18203a" stroke-width="1.3"/>
<rect x="390.00" y="546.90" width="12.70" height="0.40" fill="#d9605a"/>
<rect x="390.85" y="544.85" width="3.5" height="3.5" fill="#f6f6f6" stroke="#1a1a1a" stroke-width="1.3"/>
<rect x="394.65" y="544.85" width="3.5" height="3.5" fill="#f6f6f6" stroke="#1a1a1a" stroke-width="1.3"/>
<rect x="398.45" y="544.85" width="3.5" height="3.5" fill="#f6f6f6" stroke="#1a1a1a" stroke-width="1.3"/>
<rect x="416.60" y="518.00" width="12.40" height="29.30" fill="#5a6ea8"/>
<rect x="433.40" y="521.40" width="12.60" height="25.90" fill="#d9605a"/>
<line x1="422.60" y1="512.80" x2="422.60" y2="522.00" stroke="#1e1e1e" stroke-width="0.9"/>
<line x1="419.10" y1="512.80" x2="426.10" y2="512.80" stroke="#1e1e1e" stroke-width="0.9"/>
<line x1="419.10" y1="522.00" x2="426.10" y2="522.00" stroke="#1e1e1e" stroke-width="0.9"/>
<circle cx="422.50" cy="510.20" r="1.7" fill="#f4f4f8" stroke="#18203a" stroke-width="1.3"/>
<circle cx="422.50" cy="516.20" r="1.7" fill="#f4f4f8" stroke="#18203a" stroke-width="1.3"/>
<circle cx="422.50" cy="526.10" r="1.7" fill="#f4f4f8" stroke="#18203a" stroke-width="1.3"/>
<line x1="439.80" y1="515.70" x2="439.80" y2="525.70" stroke="#1e1e1e" stroke-width="0.9"/>
<line x1="436.30" y1="515.70" x2="443.30" y2="515.70" stroke="#1e1e1e" stroke-width="0.9"/>
<line x1="436.30" y1="525.70" x2="443.30" y2="525.70" stroke="#1e1e1e" stroke-width="0.9"/>
<rect x="438.05" y="512.25" width="3.5" height="3.5" fill="#f6f6f6" stroke="#1a1a1a" stroke-width="1.3"/>
<rect x="438.05" y="515.35" width="3.5" height="3.5" fill="#f6f6f6" stroke="#1a1a1a" stroke-width="1.3"/>
<rect x="438.05" y="528.35" width="3.5" height="3.5" fill="#f6f6f6" stroke="#1a1a1a" stroke-width="1.3"/>
<rect x="459.80" y="510.20" width="12.50" height="37.10" fill="#5a6ea8"/>
<rect x="477.10" y="500.70" width="12.50" height="46.60" fill="#d9605a"/>
<line x1="466.00" y1="502.40" x2="466.00" y2="515.70" stroke="#1e1e1e" stroke-width="0.9"/>
<line x1="462.50" y1="502.40" x2="469.50" y2="502.40" stroke="#1e1e1e" stroke-width="0.9"/>
<line x1="462.50" y1="515.70" x2="469.50" y2="515.70" stroke="#1e1e1e" stroke-width="0.9"/>
<circle cx="465.70" cy="498.90" r="1.7" fill="#f4f4f8" stroke="#18203a" stroke-width="1.3"/>
<circle cx="465.70" cy="506.70" r="1.7" fill="#f4f4f8" stroke="#18203a" stroke-width="1.3"/>
<circle cx="465.70" cy="522.30" r="1.7" fill="#f4f4f8" stroke="#18203a" stroke-width="1.3"/>
<line x1="483.20" y1="487.70" x2="483.20" y2="512.80" stroke="#1e1e1e" stroke-width="0.9"/>
<line x1="479.70" y1="487.70" x2="486.70" y2="487.70" stroke="#1e1e1e" stroke-width="0.9"/>
<line x1="479.70" y1="512.80" x2="486.70" y2="512.80" stroke="#1e1e1e" stroke-width="0.9"/>
<rect x="481.25" y="479.05" width="3.5" height="3.5" fill="#f6f6f6" stroke="#1a1a1a" stroke-width="1.3"/>
<rect x="481.25" y="494.55" width="3.5" height="3.5" fill="#f6f6f6" stroke="#1a1a1a" stroke-width="1.3"/>
<rect x="481.25" y="522.25" width="3.5" height="3.5" fill="#f6f6f6" stroke="#1a1a1a" stroke-width="1.3"/>
<line x1="379.20" y1="520.20" x2="395.80" y2="520.20" stroke="#1e1e1e" stroke-width="1"/>
<text x="387.50" y="518.87" font-size="7.0" text-anchor="middle" fill="#1e1e1e">*</text>
<line x1="423.00" y1="502.40" x2="439.40" y2="502.40" stroke="#1e1e1e" stroke-width="1"/>
<text x="431.20" y="499.28" font-size="8.0" text-anchor="middle" fill="#1e1e1e" textLength="11.00" lengthAdjust="spacingAndGlyphs">NS</text>
<line x1="467.10" y1="471.80" x2="483.50" y2="471.80" stroke="#1e1e1e" stroke-width="1"/>
<text x="475.30" y="468.08" font-size="8.0" text-anchor="middle" fill="#1e1e1e" textLength="11.00" lengthAdjust="spacingAndGlyphs">NS</text>
<text x="344.40" y="560.47" font-size="8.6" text-anchor="middle" fill="#1e1e1e" textLength="12.45" lengthAdjust="spacingAndGlyphs">100</text>
<text x="387.70" y="560.27" font-size="8.6" text-anchor="middle" fill="#1e1e1e" textLength="8.30" lengthAdjust="spacingAndGlyphs">25</text>
<text x="431.40" y="560.27" font-size="8.6" text-anchor="middle" fill="#1e1e1e" textLength="8.30" lengthAdjust="spacingAndGlyphs">50</text>
<text x="474.80" y="560.27" font-size="8.6" text-anchor="middle" fill="#1e1e1e" textLength="12.45" lengthAdjust="spacingAndGlyphs">100</text>
<text x="484.40" y="559.96" font-size="7.6" text-anchor="start" fill="#1e1e1e" textLength="16.00" lengthAdjust="spacingAndGlyphs">(μM)</text>
<line x1="332.20" y1="564.50" x2="356.60" y2="564.50" stroke="#1e1e1e" stroke-width="1"/>
<line x1="377.00" y1="564.50" x2="483.00" y2="564.50" stroke="#1e1e1e" stroke-width="1"/>
<text x="344.40" y="574.78" font-size="8.0" text-anchor="middle" fill="#1e1e1e" textLength="30.00" lengthAdjust="spacingAndGlyphs">MPαCsc</text>
<text x="431.40" y="575.48" font-size="8.0" text-anchor="middle" fill="#1e1e1e" textLength="22.60" lengthAdjust="spacingAndGlyphs">MPαC</text>
<text x="60.20" y="458.88" font-size="8.0" text-anchor="middle" fill="#1e1e1e" textLength="30.00" lengthAdjust="spacingAndGlyphs">MPαCsc</text>
<text x="141.60" y="459.48" font-size="8.0" text-anchor="middle" fill="#1e1e1e" textLength="22.60" lengthAdjust="spacingAndGlyphs">MPαC</text>
<line x1="44.00" y1="463.90" x2="76.50" y2="463.90" stroke="#1e1e1e" stroke-width="1.1"/>
<line x1="85.50" y1="463.90" x2="197.00" y2="463.90" stroke="#1e1e1e" stroke-width="1.1"/>
<text x="60.60" y="473.87" font-size="8.6" text-anchor="middle" fill="#1e1e1e" textLength="12.45" lengthAdjust="spacingAndGlyphs">100</text>
<text x="101.80" y="473.87" font-size="8.6" text-anchor="middle" fill="#1e1e1e" textLength="8.30" lengthAdjust="spacingAndGlyphs">25</text>
<text x="141.50" y="473.87" font-size="8.6" text-anchor="middle" fill="#1e1e1e" textLength="8.30" lengthAdjust="spacingAndGlyphs">50</text>
<text x="182.40" y="473.87" font-size="8.6" text-anchor="middle" fill="#1e1e1e" textLength="12.45" lengthAdjust="spacingAndGlyphs">100</text>
<text x="197.60" y="473.56" font-size="7.6" text-anchor="start" fill="#1e1e1e" textLength="14.60" lengthAdjust="spacingAndGlyphs">(μM)</text>
<line x1="44.00" y1="476.80" x2="76.50" y2="476.80" stroke="#1e1e1e" stroke-width="1.1"/>
<line x1="85.40" y1="476.80" x2="118.00" y2="476.80" stroke="#1e1e1e" stroke-width="1.1"/>
<line x1="126.90" y1="476.80" x2="156.50" y2="476.80" stroke="#1e1e1e" stroke-width="1.1"/>
<line x1="166.50" y1="476.80" x2="197.60" y2="476.80" stroke="#1e1e1e" stroke-width="1.1"/>
<text x="47.80" y="504.50" font-size="7.6" fill="#1e1e1e" transform="rotate(-45 47.80 504.50)">WT</text>
<text x="66.50" y="503.40" font-size="7.4" fill="#1e1e1e" transform="rotate(-45 66.50 503.40)">10aa<tspan font-size="0.75em" dy="-0.6em" stroke-width="0.1">−/−</tspan></text>
<text x="90.60" y="504.50" font-size="7.6" fill="#1e1e1e" transform="rotate(-45 90.60 504.50)">WT</text>
<text x="109.90" y="503.40" font-size="7.4" fill="#1e1e1e" transform="rotate(-45 109.90 503.40)">10aa<tspan font-size="0.75em" dy="-0.6em" stroke-width="0.1">−/−</tspan></text>
<text x="130.30" y="504.50" font-size="7.6" fill="#1e1e1e" transform="rotate(-45 130.30 504.50)">WT</text>
<text x="146.40" y="503.40" font-size="7.4" fill="#1e1e1e" transform="rotate(-45 146.40 503.40)">10aa<tspan font-size="0.75em" dy="-0.6em" stroke-width="0.1">−/−</tspan></text>
<text x="171.70" y="504.50" font-size="7.6" fill="#1e1e1e" transform="rotate(-45 171.70 504.50)">WT</text>
<text x="190.50" y="503.40" font-size="7.4" fill="#1e1e1e" transform="rotate(-45 190.50 503.40)">10aa<tspan font-size="0.75em" dy="-0.6em" stroke-width="0.1">−/−</tspan></text>
<text x="14.60" y="510.08" font-size="8.0" text-anchor="start" fill="#1e1e1e" textLength="13.00" lengthAdjust="spacingAndGlyphs">kDa</text>
<text x="27.80" y="523.84" font-size="8.2" text-anchor="end" fill="#1e1e1e">40</text>
<line x1="30.80" y1="521.50" x2="35.00" y2="521.50" stroke="#1e1e1e" stroke-width="1.0"/>
<text x="27.80" y="560.84" font-size="8.2" text-anchor="end" fill="#1e1e1e">35</text>
<line x1="30.80" y1="558.50" x2="35.00" y2="558.50" stroke="#1e1e1e" stroke-width="1.0"/>
<rect x="38.50" y="508.70" width="163.90" height="24.80" fill="#dedede"/>
<rect x="38.50" y="539.20" width="163.90" height="24.80" fill="#d6d6d6"/>
<defs><filter id="bl" x="-20%" y="-50%" width="140%" height="200%"><feGaussianBlur stdDeviation="0.85"/></filter></defs>
<rect x="83.80" y="519.60" width="13.00" height="3.80" rx="4.16" ry="1.90" fill="#000" opacity="1.0" filter="url(#bl)"/>
<rect x="124.30" y="518.90" width="13.90" height="5.60" rx="4.45" ry="2.80" fill="#111" opacity="1.0" filter="url(#bl)"/>
<rect x="143.00" y="519.50" width="7.20" height="4.40" rx="2.30" ry="2.20" fill="#111" opacity="1.0" filter="url(#bl)"/>
<rect x="149.20" y="519.40" width="7.40" height="4.60" rx="2.37" ry="2.30" fill="#111" opacity="1.0" filter="url(#bl)"/>
<rect x="163.50" y="517.10" width="16.10" height="7.80" rx="5.15" ry="3.90" fill="#111" opacity="1.0" filter="url(#bl)"/>
<rect x="183.60" y="517.10" width="16.00" height="7.00" rx="5.12" ry="3.50" fill="#111" opacity="1.0" filter="url(#bl)"/>
<rect x="40.80" y="549.00" width="14.40" height="6.40" rx="4.61" ry="3.20" fill="#262626" opacity="1.0" filter="url(#bl)"/>
<rect x="62.20" y="548.00" width="10.60" height="6.00" rx="3.39" ry="3.00" fill="#262626" opacity="1.0" filter="url(#bl)"/>
<rect x="81.20" y="546.00" width="15.60" height="7.60" rx="4.99" ry="3.80" fill="#222" opacity="1.0" filter="url(#bl)"/>
<rect x="104.20" y="546.90" width="13.20" height="6.20" rx="4.22" ry="3.10" fill="#262626" opacity="1.0" filter="url(#bl)"/>
<rect x="121.60" y="548.40" width="14.80" height="6.00" rx="4.74" ry="3.00" fill="#282828" opacity="1.0" filter="url(#bl)"/>
<rect x="141.80" y="548.60" width="15.40" height="5.80" rx="4.93" ry="2.90" fill="#282828" opacity="1.0" filter="url(#bl)"/>
<rect x="162.90" y="548.90" width="15.70" height="6.00" rx="5.02" ry="3.00" fill="#262626" opacity="1.0" filter="url(#bl)"/>
<rect x="184.20" y="550.00" width="14.40" height="5.00" rx="4.61" ry="2.50" fill="#2c2c2c" opacity="1.0" filter="url(#bl)"/>
<text x="205.00" y="524.14" font-size="8.2" text-anchor="start" fill="#1e1e1e" textLength="36.80" lengthAdjust="spacingAndGlyphs">pPleckstrin</text>
<text x="205.80" y="555.34" font-size="8.2" text-anchor="start" fill="#1e1e1e" textLength="26.00" lengthAdjust="spacingAndGlyphs">GAPDH</text>
</g>
<rect x="0.5" y="0.5" width="519" height="582" fill="none" stroke="#4a4a4a" stroke-width="1.3"/>
</svg>
</body></html>
